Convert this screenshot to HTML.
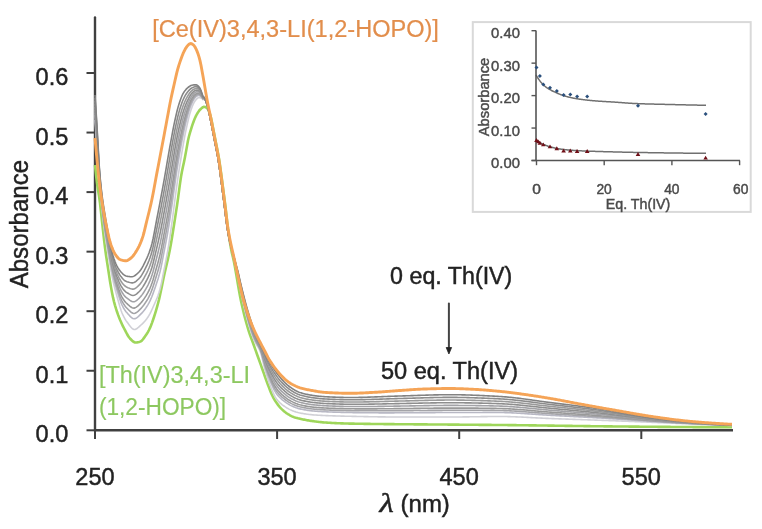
<!DOCTYPE html><html><head><meta charset="utf-8"><style>html,body{margin:0;padding:0;background:#fff;}svg{display:block;filter:blur(0.65px);}text{-webkit-font-smoothing:antialiased;}</style></head><body>
<svg width="762" height="529" viewBox="0 0 762 529">
<rect width="762" height="529" fill="#fff"/>
<line x1="95" y1="17.5" x2="95" y2="431" stroke="#404040" stroke-width="2.4" stroke-linecap="round"/>
<line x1="94" y1="430.3" x2="733" y2="430.3" stroke="#404040" stroke-width="2.4"/>
<line x1="86.5" y1="430.30" x2="95" y2="430.30" stroke="#404040" stroke-width="2"/>
<line x1="86.5" y1="370.75" x2="95" y2="370.75" stroke="#404040" stroke-width="2"/>
<line x1="86.5" y1="311.20" x2="95" y2="311.20" stroke="#404040" stroke-width="2"/>
<line x1="86.5" y1="251.65" x2="95" y2="251.65" stroke="#404040" stroke-width="2"/>
<line x1="86.5" y1="192.10" x2="95" y2="192.10" stroke="#404040" stroke-width="2"/>
<line x1="86.5" y1="132.55" x2="95" y2="132.55" stroke="#404040" stroke-width="2"/>
<line x1="86.5" y1="73.00" x2="95" y2="73.00" stroke="#404040" stroke-width="2"/>
<line x1="95.00" y1="430" x2="95.00" y2="439" stroke="#404040" stroke-width="2"/>
<line x1="277.10" y1="430" x2="277.10" y2="439" stroke="#404040" stroke-width="2"/>
<line x1="459.20" y1="430" x2="459.20" y2="439" stroke="#404040" stroke-width="2"/>
<line x1="641.30" y1="430" x2="641.30" y2="439" stroke="#404040" stroke-width="2"/>
<path d="M95.0,165.00 L96.0,174.61 L97.0,183.00 L98.0,189.71 L99.0,195.84 L100.0,203.17 L101.0,212.09 L102.0,221.48 L103.0,230.43 L104.0,239.31 L105.0,247.69 L106.0,255.03 L107.0,261.66 L108.0,268.06 L109.0,274.64 L110.0,281.19 L111.0,287.12 L112.0,292.53 L113.0,297.42 L114.0,301.58 L115.0,305.29 L116.0,308.69 L117.0,311.79 L118.0,314.65 L119.0,317.30 L120.0,319.76 L121.0,322.07 L122.0,324.25 L123.0,326.31 L124.0,328.28 L125.0,330.19 L126.0,332.10 L127.0,333.99 L128.0,335.75 L129.0,337.29 L130.0,338.50 L131.0,339.53 L132.0,340.53 L133.0,341.40 L134.0,342.07 L135.0,342.45 L136.0,342.49 L137.0,342.39 L138.0,342.21 L139.0,341.97 L140.0,341.67 L141.0,341.26 L142.0,340.42 L143.0,339.24 L144.0,337.88 L145.0,336.50 L146.0,335.10 L147.0,333.56 L148.0,331.87 L149.0,330.00 L150.0,327.93 L151.0,325.52 L152.0,322.85 L153.0,319.98 L154.0,317.00 L155.0,313.91 L156.0,310.63 L157.0,307.17 L158.0,303.50 L159.0,299.60 L160.0,295.29 L161.0,290.58 L162.0,285.67 L163.0,280.75 L164.0,276.00 L165.0,271.54 L166.0,267.24 L167.0,262.98 L168.0,258.60 L169.0,253.97 L170.0,248.96 L171.0,243.42 L172.0,237.47 L173.0,231.27 L174.0,225.00 L175.0,218.65 L176.0,212.12 L177.0,205.44 L178.0,198.61 L179.0,191.20 L180.0,183.66 L181.0,176.80 L182.0,171.26 L183.0,166.55 L184.0,161.96 L185.0,156.92 L186.0,151.62 L187.0,145.98 L188.0,140.46 L189.0,136.26 L190.0,132.67 L191.0,129.34 L192.0,126.16 L193.0,123.19 L194.0,120.50 L195.0,118.08 L196.0,115.88 L197.0,114.00 L198.0,112.37 L199.0,110.90 L200.0,109.69 L201.0,108.75 L202.0,107.87 L203.0,107.16 L204.0,106.81 L205.0,106.92 L206.0,107.37 L207.0,108.08 L208.0,109.19 L209.0,111.63 L210.0,114.14 L211.0,117.83 L212.0,122.50 L213.0,127.63 L214.0,132.81 L215.0,138.00 L216.0,143.05 L217.0,148.02 L218.0,153.17 L219.0,158.79 L220.0,165.25 L221.0,172.51 L222.0,180.00 L223.0,187.59 L224.0,195.35 L225.0,203.14 L226.0,211.32 L227.0,220.45 L228.0,228.75 L229.0,236.10 L230.0,242.75 L231.0,248.48 L232.0,253.45 L233.0,257.36 L234.0,261.93 L235.0,267.19 L236.0,272.91 L237.0,278.86 L238.0,284.84 L239.0,290.65 L240.0,296.08 L241.0,300.92 L242.0,305.42 L243.0,309.75 L244.0,313.90 L245.0,317.87 L246.0,321.66 L247.0,325.27 L248.0,328.68 L249.0,331.89 L250.0,334.81 L251.0,337.56 L252.0,340.25 L253.0,343.00 L254.0,345.81 L255.0,348.61 L256.0,351.41 L257.0,354.20 L258.0,357.00 L259.0,359.80 L260.0,362.60 L261.0,365.40 L262.0,368.20 L263.0,371.00 L264.0,373.84 L265.0,376.71 L266.0,379.57 L267.0,382.35 L268.0,385.00 L269.0,387.59 L270.0,390.16 L271.0,392.65 L272.0,394.97 L273.0,397.06 L274.0,398.88 L275.0,400.55 L276.0,402.10 L277.0,403.55 L278.0,404.89 L279.0,406.13 L280.0,407.28 L281.0,408.35 L282.0,409.37 L283.0,410.33 L284.0,411.22 L285.0,412.05 L286.0,412.81 L287.0,413.50 L288.0,414.14 L289.0,414.74 L290.0,415.31 L291.0,415.84 L292.0,416.32 L293.0,416.76 L294.0,417.16 L295.0,417.50 L296.0,417.81 L297.0,418.08 L298.0,418.34 L299.0,418.57 L300.0,418.80 L301.0,419.02 L302.0,419.23 L303.0,419.44 L304.0,419.64 L305.0,419.83 L306.0,420.02 L307.0,420.20 L308.0,420.38 L309.0,420.54 L310.0,420.70 L311.0,420.85 L312.0,421.00 L313.0,421.14 L314.0,421.28 L315.0,421.42 L316.0,421.55 L317.0,421.68 L318.0,421.81 L319.0,421.93 L320.0,422.05 L321.0,422.15 L322.0,422.25 L323.0,422.35 L324.0,422.43 L325.0,422.50 L326.0,422.57 L327.0,422.63 L328.0,422.69 L329.0,422.75 L330.0,422.81 L331.0,422.87 L332.0,422.93 L333.0,422.98 L334.0,423.03 L335.0,423.08 L336.0,423.13 L337.0,423.18 L338.0,423.22 L339.0,423.27 L340.0,423.31 L341.0,423.34 L342.0,423.38 L343.0,423.42 L344.0,423.45 L345.0,423.48 L346.0,423.51 L347.0,423.53 L348.0,423.56 L349.0,423.58 L350.0,423.60 L351.0,423.62 L352.0,423.64 L353.0,423.65 L354.0,423.67 L355.0,423.69 L356.0,423.71 L357.0,423.72 L358.0,423.74 L359.0,423.76 L360.0,423.77 L361.0,423.79 L362.0,423.80 L363.0,423.82 L364.0,423.83 L365.0,423.85 L366.0,423.86 L367.0,423.87 L368.0,423.89 L369.0,423.90 L370.0,423.91 L371.0,423.93 L372.0,423.94 L373.0,423.95 L374.0,423.97 L375.0,423.98 L376.0,423.99 L377.0,424.00 L378.0,424.01 L379.0,424.02 L380.0,424.03 L381.0,424.05 L382.0,424.06 L383.0,424.07 L384.0,424.08 L385.0,424.09 L386.0,424.10 L387.0,424.11 L388.0,424.12 L389.0,424.13 L390.0,424.14 L391.0,424.15 L392.0,424.15 L393.0,424.16 L394.0,424.17 L395.0,424.18 L396.0,424.19 L397.0,424.20 L398.0,424.21 L399.0,424.22 L400.0,424.22 L401.0,424.23 L402.0,424.24 L403.0,424.25 L404.0,424.26 L405.0,424.26 L406.0,424.27 L407.0,424.28 L408.0,424.29 L409.0,424.29 L410.0,424.30 L411.0,424.31 L412.0,424.32 L413.0,424.32 L414.0,424.33 L415.0,424.34 L416.0,424.34 L417.0,424.35 L418.0,424.36 L419.0,424.37 L420.0,424.37 L421.0,424.38 L422.0,424.39 L423.0,424.39 L424.0,424.40 L425.0,424.41 L426.0,424.41 L427.0,424.42 L428.0,424.43 L429.0,424.44 L430.0,424.44 L431.0,424.45 L432.0,424.46 L433.0,424.47 L434.0,424.47 L435.0,424.48 L436.0,424.49 L437.0,424.49 L438.0,424.50 L439.0,424.51 L440.0,424.52 L441.0,424.53 L442.0,424.53 L443.0,424.54 L444.0,424.55 L445.0,424.56 L446.0,424.57 L447.0,424.57 L448.0,424.58 L449.0,424.59 L450.0,424.60 L451.0,424.61 L452.0,424.62 L453.0,424.63 L454.0,424.63 L455.0,424.64 L456.0,424.65 L457.0,424.66 L458.0,424.67 L459.0,424.67 L460.0,424.68 L461.0,424.69 L462.0,424.70 L463.0,424.71 L464.0,424.71 L465.0,424.72 L466.0,424.73 L467.0,424.74 L468.0,424.74 L469.0,424.75 L470.0,424.76 L471.0,424.77 L472.0,424.77 L473.0,424.78 L474.0,424.79 L475.0,424.80 L476.0,424.80 L477.0,424.81 L478.0,424.82 L479.0,424.83 L480.0,424.83 L481.0,424.84 L482.0,424.85 L483.0,424.86 L484.0,424.86 L485.0,424.87 L486.0,424.88 L487.0,424.89 L488.0,424.90 L489.0,424.90 L490.0,424.91 L491.0,424.92 L492.0,424.93 L493.0,424.94 L494.0,424.95 L495.0,424.95 L496.0,424.96 L497.0,424.97 L498.0,424.98 L499.0,424.99 L500.0,425.00 L501.0,425.01 L502.0,425.02 L503.0,425.03 L504.0,425.04 L505.0,425.05 L506.0,425.06 L507.0,425.07 L508.0,425.08 L509.0,425.09 L510.0,425.10 L511.0,425.11 L512.0,425.12 L513.0,425.14 L514.0,425.15 L515.0,425.16 L516.0,425.17 L517.0,425.18 L518.0,425.19 L519.0,425.21 L520.0,425.22 L521.0,425.23 L522.0,425.24 L523.0,425.25 L524.0,425.27 L525.0,425.28 L526.0,425.29 L527.0,425.30 L528.0,425.32 L529.0,425.33 L530.0,425.34 L531.0,425.36 L532.0,425.37 L533.0,425.38 L534.0,425.40 L535.0,425.41 L536.0,425.42 L537.0,425.44 L538.0,425.45 L539.0,425.46 L540.0,425.48 L541.0,425.49 L542.0,425.50 L543.0,425.52 L544.0,425.53 L545.0,425.55 L546.0,425.56 L547.0,425.57 L548.0,425.59 L549.0,425.60 L550.0,425.62 L551.0,425.63 L552.0,425.64 L553.0,425.66 L554.0,425.67 L555.0,425.69 L556.0,425.70 L557.0,425.71 L558.0,425.73 L559.0,425.74 L560.0,425.76 L561.0,425.77 L562.0,425.78 L563.0,425.80 L564.0,425.81 L565.0,425.83 L566.0,425.84 L567.0,425.85 L568.0,425.87 L569.0,425.88 L570.0,425.90 L571.0,425.91 L572.0,425.92 L573.0,425.94 L574.0,425.95 L575.0,425.97 L576.0,425.98 L577.0,425.99 L578.0,426.01 L579.0,426.02 L580.0,426.03 L581.0,426.05 L582.0,426.06 L583.0,426.07 L584.0,426.09 L585.0,426.10 L586.0,426.11 L587.0,426.13 L588.0,426.14 L589.0,426.15 L590.0,426.17 L591.0,426.18 L592.0,426.19 L593.0,426.20 L594.0,426.22 L595.0,426.23 L596.0,426.24 L597.0,426.25 L598.0,426.27 L599.0,426.28 L600.0,426.29 L601.0,426.30 L602.0,426.31 L603.0,426.32 L604.0,426.34 L605.0,426.35 L606.0,426.36 L607.0,426.37 L608.0,426.38 L609.0,426.39 L610.0,426.40 L611.0,426.41 L612.0,426.42 L613.0,426.43 L614.0,426.44 L615.0,426.45 L616.0,426.46 L617.0,426.47 L618.0,426.48 L619.0,426.49 L620.0,426.50 L621.0,426.51 L622.0,426.52 L623.0,426.53 L624.0,426.54 L625.0,426.55 L626.0,426.55 L627.0,426.56 L628.0,426.57 L629.0,426.58 L630.0,426.59 L631.0,426.60 L632.0,426.61 L633.0,426.62 L634.0,426.62 L635.0,426.63 L636.0,426.64 L637.0,426.65 L638.0,426.66 L639.0,426.67 L640.0,426.68 L641.0,426.68 L642.0,426.69 L643.0,426.70 L644.0,426.71 L645.0,426.72 L646.0,426.73 L647.0,426.74 L648.0,426.74 L649.0,426.75 L650.0,426.76 L651.0,426.77 L652.0,426.78 L653.0,426.78 L654.0,426.79 L655.0,426.80 L656.0,426.81 L657.0,426.82 L658.0,426.83 L659.0,426.83 L660.0,426.84 L661.0,426.85 L662.0,426.86 L663.0,426.86 L664.0,426.87 L665.0,426.88 L666.0,426.89 L667.0,426.90 L668.0,426.90 L669.0,426.91 L670.0,426.92 L671.0,426.93 L672.0,426.93 L673.0,426.94 L674.0,426.95 L675.0,426.96 L676.0,426.96 L677.0,426.97 L678.0,426.98 L679.0,426.98 L680.0,426.99 L681.0,427.00 L682.0,427.01 L683.0,427.01 L684.0,427.02 L685.0,427.03 L686.0,427.03 L687.0,427.04 L688.0,427.05 L689.0,427.05 L690.0,427.06 L691.0,427.07 L692.0,427.07 L693.0,427.08 L694.0,427.09 L695.0,427.09 L696.0,427.10 L697.0,427.11 L698.0,427.11 L699.0,427.12 L700.0,427.13 L701.0,427.13 L702.0,427.14 L703.0,427.14 L704.0,427.15 L705.0,427.16 L706.0,427.16 L707.0,427.17 L708.0,427.17 L709.0,427.18 L710.0,427.19 L711.0,427.19 L712.0,427.20 L713.0,427.20 L714.0,427.21 L715.0,427.21 L716.0,427.22 L717.0,427.23 L718.0,427.23 L719.0,427.24 L720.0,427.24 L721.0,427.25 L722.0,427.25 L723.0,427.26 L724.0,427.26 L725.0,427.27 L726.0,427.27 L727.0,427.28 L728.0,427.28 L729.0,427.29 L730.0,427.29 L731.0,427.30 L732.0,427.30" fill="none" stroke="#9ed65a" stroke-width="2.6" stroke-linejoin="round"/>
<path d="M95.0,120.00 L96.0,135.24 L97.0,150.00 L98.0,164.74 L99.0,178.79 L100.0,190.60 L101.0,200.72 L102.0,210.00 L103.0,218.99 L104.0,227.46 L105.0,235.00 L106.0,241.34 L107.0,247.08 L108.0,253.04 L109.0,259.23 L110.0,265.21 L111.0,270.66 L112.0,275.77 L113.0,280.56 L114.0,285.00 L115.0,289.08 L116.0,292.88 L117.0,296.49 L118.0,300.00 L119.0,303.55 L120.0,307.07 L121.0,310.30 L122.0,313.00 L123.0,315.23 L124.0,317.22 L125.0,319.01 L126.0,320.60 L127.0,322.00 L128.0,323.35 L129.0,324.73 L130.0,326.06 L131.0,327.27 L132.0,328.28 L133.0,329.03 L134.0,329.45 L135.0,329.45 L136.0,329.12 L137.0,328.52 L138.0,327.74 L139.0,326.84 L140.0,325.90 L141.0,325.00 L142.0,324.10 L143.0,323.13 L144.0,322.09 L145.0,320.95 L146.0,319.73 L147.0,318.41 L148.0,317.00 L149.0,315.41 L150.0,313.59 L151.0,311.59 L152.0,309.47 L153.0,307.25 L154.0,305.00 L155.0,302.76 L156.0,300.48 L157.0,298.09 L158.0,295.48 L159.0,292.59 L160.0,289.30 L161.0,285.17 L162.0,280.32 L163.0,275.14 L164.0,270.00 L165.0,265.05 L166.0,260.07 L167.0,254.89 L168.0,249.35 L169.0,243.25 L170.0,236.47 L171.0,229.28 L172.0,222.00 L173.0,214.57 L174.0,206.87 L175.0,199.12 L176.0,191.52 L177.0,184.30 L178.0,177.39 L179.0,170.68 L180.0,164.21 L181.0,158.00 L182.0,151.95 L183.0,146.01 L184.0,140.30 L185.0,134.93 L186.0,130.00 L187.0,125.39 L188.0,120.97 L189.0,116.85 L190.0,113.16 L191.0,110.00 L192.0,107.23 L193.0,104.70 L194.0,102.58 L195.0,101.00 L196.0,99.74 L197.0,98.62 L198.0,97.81 L199.0,97.50 L200.0,97.63 L201.0,97.99 L202.0,98.50 L203.0,99.65 L204.0,98.41 L205.0,98.98 L206.0,101.10 L207.0,104.14 L208.0,107.53 L209.0,112.28 L210.0,117.05 L211.0,122.01 L212.0,127.12 L213.0,132.29 L214.0,137.48 L215.0,142.56 L216.0,147.52 L217.0,152.64 L218.0,158.20 L219.0,164.56 L220.0,171.76 L221.0,179.26 L222.0,186.81 L223.0,194.58 L224.0,202.34 L225.0,210.49 L226.0,218.64 L227.0,226.11 L228.0,232.34 L229.0,237.75 L230.0,242.65 L231.0,246.62 L232.0,250.64 L233.0,254.80 L234.0,259.23 L235.0,263.91 L236.0,268.74 L237.0,273.65 L238.0,278.59 L239.0,283.55 L240.0,288.37 L241.0,293.00 L242.0,297.51 L243.0,301.96 L244.0,306.31 L245.0,310.52 L246.0,314.56 L247.0,318.40 L248.0,322.00 L249.0,325.42 L250.0,328.72 L251.0,331.86 L252.0,334.82 L253.0,337.54 L254.0,340.00 L255.0,342.09 L256.0,343.86 L257.0,345.47 L258.0,347.08 L259.0,348.87 L260.0,351.01 L261.0,353.78 L262.0,357.54 L263.0,361.85 L264.0,366.17 L265.0,370.00 L266.0,373.33 L267.0,376.52 L268.0,379.53 L269.0,382.37 L270.0,385.00 L271.0,387.53 L272.0,390.02 L273.0,392.41 L274.0,394.63 L275.0,396.61 L276.0,398.29 L277.0,399.64 L278.0,400.82 L279.0,401.88 L280.0,402.85 L281.0,403.72 L282.0,404.53 L283.0,405.28 L284.0,406.00 L285.0,406.69 L286.0,407.34 L287.0,407.97 L288.0,408.55 L289.0,409.10 L290.0,409.61 L291.0,410.08 L292.0,410.50 L293.0,410.89 L294.0,411.27 L295.0,411.62 L296.0,411.96 L297.0,412.26 L298.0,412.54 L299.0,412.79 L300.0,413.00 L301.0,413.19 L302.0,413.38 L303.0,413.55 L304.0,413.72 L305.0,413.88 L306.0,414.03 L307.0,414.18 L308.0,414.31 L309.0,414.44 L310.0,414.56 L311.0,414.67 L312.0,414.76 L313.0,414.85 L314.0,414.93 L315.0,415.00 L316.0,415.06 L317.0,415.12 L318.0,415.18 L319.0,415.24 L320.0,415.29 L321.0,415.34 L322.0,415.39 L323.0,415.44 L324.0,415.49 L325.0,415.54 L326.0,415.58 L327.0,415.62 L328.0,415.66 L329.0,415.70 L330.0,415.74 L331.0,415.78 L332.0,415.82 L333.0,415.85 L334.0,415.88 L335.0,415.92 L336.0,415.95 L337.0,415.98 L338.0,416.01 L339.0,416.04 L340.0,416.06 L341.0,416.09 L342.0,416.12 L343.0,416.14 L344.0,416.17 L345.0,416.19 L346.0,416.21 L347.0,416.24 L348.0,416.26 L349.0,416.28 L350.0,416.30 L351.0,416.32 L352.0,416.34 L353.0,416.36 L354.0,416.38 L355.0,416.40 L356.0,416.42 L357.0,416.45 L358.0,416.47 L359.0,416.49 L360.0,416.51 L361.0,416.53 L362.0,416.55 L363.0,416.57 L364.0,416.59 L365.0,416.60 L366.0,416.62 L367.0,416.64 L368.0,416.66 L369.0,416.68 L370.0,416.70 L371.0,416.71 L372.0,416.73 L373.0,416.75 L374.0,416.76 L375.0,416.78 L376.0,416.80 L377.0,416.81 L378.0,416.83 L379.0,416.84 L380.0,416.85 L381.0,416.87 L382.0,416.88 L383.0,416.89 L384.0,416.90 L385.0,416.91 L386.0,416.93 L387.0,416.93 L388.0,416.94 L389.0,416.95 L390.0,416.96 L391.0,416.97 L392.0,416.97 L393.0,416.98 L394.0,416.99 L395.0,416.99 L396.0,416.99 L397.0,417.00 L398.0,417.00 L399.0,417.00 L400.0,417.00 L401.0,417.00 L402.0,417.00 L403.0,417.00 L404.0,417.00 L405.0,417.00 L406.0,417.00 L407.0,417.00 L408.0,417.00 L409.0,417.00 L410.0,417.00 L411.0,417.00 L412.0,417.00 L413.0,417.00 L414.0,417.00 L415.0,417.00 L416.0,417.00 L417.0,417.00 L418.0,417.00 L419.0,417.00 L420.0,417.00 L421.0,417.00 L422.0,417.00 L423.0,417.00 L424.0,417.00 L425.0,417.00 L426.0,417.00 L427.0,417.00 L428.0,417.00 L429.0,417.00 L430.0,417.00 L431.0,417.00 L432.0,417.00 L433.0,417.00 L434.0,417.00 L435.0,417.00 L436.0,417.00 L437.0,417.00 L438.0,417.00 L439.0,417.00 L440.0,417.00 L441.0,417.00 L442.0,417.00 L443.0,417.00 L444.0,417.00 L445.0,417.00 L446.0,417.00 L447.0,417.00 L448.0,417.00 L449.0,417.00 L450.0,417.00 L451.0,417.00 L452.0,417.00 L453.0,416.99 L454.0,416.99 L455.0,416.99 L456.0,416.98 L457.0,416.97 L458.0,416.97 L459.0,416.96 L460.0,416.95 L461.0,416.94 L462.0,416.93 L463.0,416.92 L464.0,416.90 L465.0,416.89 L466.0,416.88 L467.0,416.87 L468.0,416.85 L469.0,416.84 L470.0,416.82 L471.0,416.81 L472.0,416.79 L473.0,416.78 L474.0,416.76 L475.0,416.75 L476.0,416.74 L477.0,416.72 L478.0,416.71 L479.0,416.69 L480.0,416.68 L481.0,416.66 L482.0,416.65 L483.0,416.63 L484.0,416.62 L485.0,416.61 L486.0,416.60 L487.0,416.58 L488.0,416.57 L489.0,416.56 L490.0,416.55 L491.0,416.54 L492.0,416.53 L493.0,416.53 L494.0,416.52 L495.0,416.51 L496.0,416.51 L497.0,416.51 L498.0,416.50 L499.0,416.50 L500.0,416.50 L501.0,416.50 L502.0,416.51 L503.0,416.51 L504.0,416.53 L505.0,416.54 L506.0,416.56 L507.0,416.57 L508.0,416.60 L509.0,416.62 L510.0,416.65 L511.0,416.68 L512.0,416.71 L513.0,416.74 L514.0,416.78 L515.0,416.81 L516.0,416.85 L517.0,416.89 L518.0,416.93 L519.0,416.98 L520.0,417.02 L521.0,417.07 L522.0,417.12 L523.0,417.16 L524.0,417.21 L525.0,417.26 L526.0,417.31 L527.0,417.37 L528.0,417.42 L529.0,417.47 L530.0,417.52 L531.0,417.58 L532.0,417.63 L533.0,417.68 L534.0,417.74 L535.0,417.79 L536.0,417.84 L537.0,417.90 L538.0,417.95 L539.0,418.00 L540.0,418.05 L541.0,418.10 L542.0,418.15 L543.0,418.20 L544.0,418.24 L545.0,418.29 L546.0,418.34 L547.0,418.38 L548.0,418.42 L549.0,418.46 L550.0,418.50 L551.0,418.54 L552.0,418.58 L553.0,418.61 L554.0,418.65 L555.0,418.69 L556.0,418.72 L557.0,418.76 L558.0,418.80 L559.0,418.83 L560.0,418.87 L561.0,418.91 L562.0,418.94 L563.0,418.98 L564.0,419.01 L565.0,419.05 L566.0,419.08 L567.0,419.12 L568.0,419.15 L569.0,419.19 L570.0,419.22 L571.0,419.26 L572.0,419.29 L573.0,419.33 L574.0,419.36 L575.0,419.40 L576.0,419.43 L577.0,419.47 L578.0,419.50 L579.0,419.54 L580.0,419.57 L581.0,419.61 L582.0,419.64 L583.0,419.68 L584.0,419.71 L585.0,419.74 L586.0,419.78 L587.0,419.81 L588.0,419.85 L589.0,419.88 L590.0,419.92 L591.0,419.95 L592.0,419.99 L593.0,420.02 L594.0,420.06 L595.0,420.09 L596.0,420.13 L597.0,420.16 L598.0,420.20 L599.0,420.23 L600.0,420.27 L601.0,420.30 L602.0,420.34 L603.0,420.37 L604.0,420.41 L605.0,420.44 L606.0,420.48 L607.0,420.52 L608.0,420.55 L609.0,420.59 L610.0,420.62 L611.0,420.66 L612.0,420.70 L613.0,420.74 L614.0,420.77 L615.0,420.81 L616.0,420.85 L617.0,420.89 L618.0,420.92 L619.0,420.96 L620.0,421.00 L621.0,421.04 L622.0,421.08 L623.0,421.12 L624.0,421.16 L625.0,421.20 L626.0,421.24 L627.0,421.28 L628.0,421.32 L629.0,421.36 L630.0,421.40 L631.0,421.44 L632.0,421.48 L633.0,421.52 L634.0,421.56 L635.0,421.60 L636.0,421.65 L637.0,421.69 L638.0,421.73 L639.0,421.77 L640.0,421.81 L641.0,421.86 L642.0,421.90 L643.0,421.94 L644.0,421.98 L645.0,422.03 L646.0,422.07 L647.0,422.11 L648.0,422.15 L649.0,422.20 L650.0,422.24 L651.0,422.28 L652.0,422.33 L653.0,422.37 L654.0,422.41 L655.0,422.45 L656.0,422.50 L657.0,422.54 L658.0,422.58 L659.0,422.63 L660.0,422.67 L661.0,422.71 L662.0,422.75 L663.0,422.80 L664.0,422.84 L665.0,422.88 L666.0,422.92 L667.0,422.97 L668.0,423.01 L669.0,423.05 L670.0,423.09 L671.0,423.13 L672.0,423.17 L673.0,423.22 L674.0,423.26 L675.0,423.30 L676.0,423.34 L677.0,423.38 L678.0,423.42 L679.0,423.46 L680.0,423.50 L681.0,423.54 L682.0,423.58 L683.0,423.62 L684.0,423.66 L685.0,423.70 L686.0,423.74 L687.0,423.78 L688.0,423.82 L689.0,423.86 L690.0,423.90 L691.0,423.94 L692.0,423.98 L693.0,424.01 L694.0,424.05 L695.0,424.09 L696.0,424.13 L697.0,424.17 L698.0,424.21 L699.0,424.25 L700.0,424.29 L701.0,424.33 L702.0,424.37 L703.0,424.40 L704.0,424.44 L705.0,424.48 L706.0,424.52 L707.0,424.56 L708.0,424.60 L709.0,424.63 L710.0,424.67 L711.0,424.71 L712.0,424.75 L713.0,424.79 L714.0,424.83 L715.0,424.86 L716.0,424.90 L717.0,424.94 L718.0,424.98 L719.0,425.01 L720.0,425.05 L721.0,425.09 L722.0,425.13 L723.0,425.16 L724.0,425.20 L725.0,425.24 L726.0,425.28 L727.0,425.31 L728.0,425.35 L729.0,425.39 L730.0,425.43 L731.0,425.46 L732.0,425.50" fill="none" stroke="#d0d0d6" stroke-width="1.6" stroke-linejoin="round"/>
<path d="M95.0,115.00 L96.0,130.19 L97.0,145.30 L98.0,160.60 L99.0,175.53 L100.0,187.70 L101.0,197.85 L102.0,207.00 L103.0,215.67 L104.0,223.74 L105.0,231.00 L106.0,237.26 L107.0,242.97 L108.0,248.83 L109.0,254.89 L110.0,260.77 L111.0,266.11 L112.0,271.00 L113.0,275.56 L114.0,279.76 L115.0,283.59 L116.0,287.10 L117.0,290.40 L118.0,293.57 L119.0,296.73 L120.0,299.82 L121.0,302.64 L122.0,305.01 L123.0,306.99 L124.0,308.77 L125.0,310.33 L126.0,311.68 L127.0,312.84 L128.0,313.95 L129.0,315.08 L130.0,316.17 L131.0,317.15 L132.0,317.97 L133.0,318.53 L134.0,318.78 L135.0,318.67 L136.0,318.25 L137.0,317.60 L138.0,316.78 L139.0,315.87 L140.0,314.90 L141.0,313.90 L142.0,312.86 L143.0,311.72 L144.0,310.49 L145.0,309.18 L146.0,307.78 L147.0,306.30 L148.0,304.70 L149.0,302.92 L150.0,300.90 L151.0,298.68 L152.0,296.25 L153.0,293.60 L154.0,290.80 L155.0,287.94 L156.0,285.04 L157.0,282.07 L158.0,278.96 L159.0,275.59 L160.0,271.90 L161.0,267.53 L162.0,262.57 L163.0,257.32 L164.0,252.11 L165.0,247.03 L166.0,241.88 L167.0,236.56 L168.0,230.95 L169.0,224.92 L170.0,218.37 L171.0,211.53 L172.0,204.62 L173.0,197.61 L174.0,190.44 L175.0,183.30 L176.0,176.33 L177.0,169.70 L178.0,163.39 L179.0,157.35 L180.0,151.57 L181.0,146.04 L182.0,140.71 L183.0,135.55 L184.0,130.65 L185.0,126.07 L186.0,121.88 L187.0,117.98 L188.0,114.27 L189.0,110.83 L190.0,107.74 L191.0,105.10 L192.0,102.82 L193.0,100.77 L194.0,99.05 L195.0,97.77 L196.0,96.76 L197.0,95.91 L198.0,95.42 L199.0,95.38 L200.0,95.76 L201.0,96.51 L202.0,97.50 L203.0,99.04 L204.0,98.18 L205.0,98.99 L206.0,101.18 L207.0,104.20 L208.0,107.53 L209.0,112.28 L210.0,117.05 L211.0,122.01 L212.0,127.12 L213.0,132.29 L214.0,137.48 L215.0,142.56 L216.0,147.52 L217.0,152.64 L218.0,158.20 L219.0,164.56 L220.0,171.76 L221.0,179.26 L222.0,186.81 L223.0,194.58 L224.0,202.34 L225.0,210.49 L226.0,218.64 L227.0,226.11 L228.0,232.34 L229.0,237.75 L230.0,242.65 L231.0,246.55 L232.0,250.47 L233.0,254.51 L234.0,258.78 L235.0,263.26 L236.0,267.87 L237.0,272.54 L238.0,277.21 L239.0,282.07 L240.0,286.81 L241.0,291.37 L242.0,295.81 L243.0,300.17 L244.0,304.42 L245.0,308.55 L246.0,312.52 L247.0,316.31 L248.0,319.89 L249.0,323.29 L250.0,326.58 L251.0,329.71 L252.0,332.68 L253.0,335.44 L254.0,337.97 L255.0,340.18 L256.0,342.09 L257.0,343.84 L258.0,345.57 L259.0,347.42 L260.0,349.53 L261.0,352.14 L262.0,355.54 L263.0,359.39 L264.0,363.28 L265.0,366.78 L266.0,369.87 L267.0,372.83 L268.0,375.63 L269.0,378.24 L270.0,380.67 L271.0,383.01 L272.0,385.30 L273.0,387.50 L274.0,389.56 L275.0,391.43 L276.0,393.06 L277.0,394.41 L278.0,395.62 L279.0,396.73 L280.0,397.75 L281.0,398.68 L282.0,399.54 L283.0,400.36 L284.0,401.14 L285.0,401.89 L286.0,402.61 L287.0,403.29 L288.0,403.93 L289.0,404.53 L290.0,405.09 L291.0,405.60 L292.0,406.07 L293.0,406.52 L294.0,406.94 L295.0,407.34 L296.0,407.72 L297.0,408.06 L298.0,408.38 L299.0,408.66 L300.0,408.90 L301.0,409.12 L302.0,409.33 L303.0,409.52 L304.0,409.71 L305.0,409.89 L306.0,410.06 L307.0,410.22 L308.0,410.37 L309.0,410.51 L310.0,410.64 L311.0,410.76 L312.0,410.87 L313.0,410.97 L314.0,411.06 L315.0,411.14 L316.0,411.22 L317.0,411.29 L318.0,411.36 L319.0,411.43 L320.0,411.49 L321.0,411.56 L322.0,411.61 L323.0,411.67 L324.0,411.72 L325.0,411.77 L326.0,411.81 L327.0,411.86 L328.0,411.90 L329.0,411.94 L330.0,411.98 L331.0,412.02 L332.0,412.06 L333.0,412.10 L334.0,412.13 L335.0,412.17 L336.0,412.20 L337.0,412.23 L338.0,412.26 L339.0,412.29 L340.0,412.32 L341.0,412.35 L342.0,412.37 L343.0,412.40 L344.0,412.42 L345.0,412.44 L346.0,412.46 L347.0,412.49 L348.0,412.50 L349.0,412.52 L350.0,412.54 L351.0,412.56 L352.0,412.57 L353.0,412.59 L354.0,412.60 L355.0,412.62 L356.0,412.63 L357.0,412.65 L358.0,412.66 L359.0,412.67 L360.0,412.68 L361.0,412.69 L362.0,412.71 L363.0,412.72 L364.0,412.73 L365.0,412.74 L366.0,412.75 L367.0,412.75 L368.0,412.76 L369.0,412.77 L370.0,412.78 L371.0,412.79 L372.0,412.79 L373.0,412.80 L374.0,412.80 L375.0,412.81 L376.0,412.81 L377.0,412.82 L378.0,412.82 L379.0,412.83 L380.0,412.83 L381.0,412.83 L382.0,412.83 L383.0,412.84 L384.0,412.84 L385.0,412.84 L386.0,412.84 L387.0,412.84 L388.0,412.84 L389.0,412.84 L390.0,412.84 L391.0,412.83 L392.0,412.83 L393.0,412.83 L394.0,412.83 L395.0,412.82 L396.0,412.82 L397.0,412.81 L398.0,412.81 L399.0,412.81 L400.0,412.80 L401.0,412.79 L402.0,412.79 L403.0,412.78 L404.0,412.78 L405.0,412.77 L406.0,412.76 L407.0,412.76 L408.0,412.75 L409.0,412.74 L410.0,412.74 L411.0,412.73 L412.0,412.72 L413.0,412.72 L414.0,412.71 L415.0,412.70 L416.0,412.70 L417.0,412.69 L418.0,412.68 L419.0,412.68 L420.0,412.67 L421.0,412.66 L422.0,412.65 L423.0,412.65 L424.0,412.64 L425.0,412.64 L426.0,412.63 L427.0,412.62 L428.0,412.62 L429.0,412.61 L430.0,412.60 L431.0,412.60 L432.0,412.59 L433.0,412.59 L434.0,412.58 L435.0,412.58 L436.0,412.57 L437.0,412.57 L438.0,412.57 L439.0,412.56 L440.0,412.56 L441.0,412.55 L442.0,412.55 L443.0,412.55 L444.0,412.55 L445.0,412.54 L446.0,412.54 L447.0,412.54 L448.0,412.54 L449.0,412.54 L450.0,412.54 L451.0,412.54 L452.0,412.54 L453.0,412.54 L454.0,412.54 L455.0,412.53 L456.0,412.53 L457.0,412.53 L458.0,412.53 L459.0,412.52 L460.0,412.52 L461.0,412.51 L462.0,412.51 L463.0,412.51 L464.0,412.50 L465.0,412.50 L466.0,412.49 L467.0,412.49 L468.0,412.48 L469.0,412.48 L470.0,412.47 L471.0,412.47 L472.0,412.46 L473.0,412.46 L474.0,412.45 L475.0,412.45 L476.0,412.45 L477.0,412.44 L478.0,412.44 L479.0,412.44 L480.0,412.43 L481.0,412.43 L482.0,412.43 L483.0,412.43 L484.0,412.43 L485.0,412.43 L486.0,412.43 L487.0,412.43 L488.0,412.43 L489.0,412.43 L490.0,412.43 L491.0,412.44 L492.0,412.44 L493.0,412.44 L494.0,412.45 L495.0,412.46 L496.0,412.46 L497.0,412.47 L498.0,412.48 L499.0,412.49 L500.0,412.50 L501.0,412.51 L502.0,412.53 L503.0,412.55 L504.0,412.57 L505.0,412.60 L506.0,412.63 L507.0,412.66 L508.0,412.70 L509.0,412.73 L510.0,412.77 L511.0,412.82 L512.0,412.86 L513.0,412.91 L514.0,412.96 L515.0,413.01 L516.0,413.07 L517.0,413.12 L518.0,413.18 L519.0,413.24 L520.0,413.30 L521.0,413.36 L522.0,413.43 L523.0,413.49 L524.0,413.56 L525.0,413.62 L526.0,413.69 L527.0,413.76 L528.0,413.83 L529.0,413.90 L530.0,413.97 L531.0,414.04 L532.0,414.11 L533.0,414.18 L534.0,414.25 L535.0,414.32 L536.0,414.39 L537.0,414.47 L538.0,414.53 L539.0,414.60 L540.0,414.67 L541.0,414.74 L542.0,414.81 L543.0,414.87 L544.0,414.94 L545.0,415.00 L546.0,415.07 L547.0,415.13 L548.0,415.19 L549.0,415.24 L550.0,415.30 L551.0,415.36 L552.0,415.41 L553.0,415.46 L554.0,415.52 L555.0,415.57 L556.0,415.63 L557.0,415.68 L558.0,415.73 L559.0,415.79 L560.0,415.84 L561.0,415.89 L562.0,415.95 L563.0,416.00 L564.0,416.05 L565.0,416.11 L566.0,416.16 L567.0,416.21 L568.0,416.27 L569.0,416.32 L570.0,416.37 L571.0,416.42 L572.0,416.48 L573.0,416.53 L574.0,416.58 L575.0,416.63 L576.0,416.69 L577.0,416.74 L578.0,416.79 L579.0,416.85 L580.0,416.90 L581.0,416.95 L582.0,417.01 L583.0,417.06 L584.0,417.11 L585.0,417.17 L586.0,417.22 L587.0,417.28 L588.0,417.33 L589.0,417.39 L590.0,417.44 L591.0,417.50 L592.0,417.55 L593.0,417.61 L594.0,417.67 L595.0,417.72 L596.0,417.78 L597.0,417.84 L598.0,417.90 L599.0,417.95 L600.0,418.01 L601.0,418.07 L602.0,418.13 L603.0,418.19 L604.0,418.26 L605.0,418.32 L606.0,418.38 L607.0,418.45 L608.0,418.51 L609.0,418.58 L610.0,418.64 L611.0,418.71 L612.0,418.77 L613.0,418.84 L614.0,418.91 L615.0,418.97 L616.0,419.04 L617.0,419.10 L618.0,419.17 L619.0,419.24 L620.0,419.30 L621.0,419.36 L622.0,419.43 L623.0,419.50 L624.0,419.56 L625.0,419.63 L626.0,419.70 L627.0,419.76 L628.0,419.83 L629.0,419.90 L630.0,419.96 L631.0,420.03 L632.0,420.10 L633.0,420.17 L634.0,420.24 L635.0,420.31 L636.0,420.37 L637.0,420.44 L638.0,420.51 L639.0,420.58 L640.0,420.65 L641.0,420.71 L642.0,420.78 L643.0,420.85 L644.0,420.92 L645.0,420.98 L646.0,421.05 L647.0,421.12 L648.0,421.18 L649.0,421.25 L650.0,421.31 L651.0,421.38 L652.0,421.44 L653.0,421.51 L654.0,421.57 L655.0,421.63 L656.0,421.69 L657.0,421.75 L658.0,421.82 L659.0,421.88 L660.0,421.93 L661.0,421.99 L662.0,422.05 L663.0,422.11 L664.0,422.17 L665.0,422.23 L666.0,422.28 L667.0,422.34 L668.0,422.40 L669.0,422.45 L670.0,422.51 L671.0,422.56 L672.0,422.62 L673.0,422.67 L674.0,422.73 L675.0,422.78 L676.0,422.84 L677.0,422.89 L678.0,422.94 L679.0,423.00 L680.0,423.05 L681.0,423.10 L682.0,423.15 L683.0,423.20 L684.0,423.25 L685.0,423.30 L686.0,423.35 L687.0,423.40 L688.0,423.45 L689.0,423.50 L690.0,423.55 L691.0,423.60 L692.0,423.65 L693.0,423.70 L694.0,423.75 L695.0,423.80 L696.0,423.84 L697.0,423.89 L698.0,423.94 L699.0,423.98 L700.0,424.03 L701.0,424.08 L702.0,424.12 L703.0,424.17 L704.0,424.21 L705.0,424.26 L706.0,424.30 L707.0,424.35 L708.0,424.39 L709.0,424.44 L710.0,424.48 L711.0,424.53 L712.0,424.57 L713.0,424.62 L714.0,424.66 L715.0,424.70 L716.0,424.75 L717.0,424.79 L718.0,424.83 L719.0,424.87 L720.0,424.92 L721.0,424.96 L722.0,425.00 L723.0,425.04 L724.0,425.08 L725.0,425.12 L726.0,425.16 L727.0,425.20 L728.0,425.24 L729.0,425.28 L730.0,425.32 L731.0,425.36 L732.0,425.40" fill="none" stroke="#b8b8c4" stroke-width="1.6" stroke-linejoin="round"/>
<path d="M95.0,112.50 L96.0,127.67 L97.0,142.94 L98.0,158.54 L99.0,173.90 L100.0,186.24 L101.0,196.42 L102.0,205.50 L103.0,214.01 L104.0,221.89 L105.0,229.00 L106.0,235.22 L107.0,240.92 L108.0,246.73 L109.0,252.72 L110.0,258.54 L111.0,263.83 L112.0,268.61 L113.0,273.05 L114.0,277.14 L115.0,280.84 L116.0,284.22 L117.0,287.35 L118.0,290.35 L119.0,293.32 L120.0,296.20 L121.0,298.81 L122.0,301.02 L123.0,302.88 L124.0,304.54 L125.0,305.99 L126.0,307.22 L127.0,308.26 L128.0,309.26 L129.0,310.26 L130.0,311.22 L131.0,312.09 L132.0,312.81 L133.0,313.28 L134.0,313.45 L135.0,313.28 L136.0,312.81 L137.0,312.14 L138.0,311.30 L139.0,310.39 L140.0,309.40 L141.0,308.35 L142.0,307.24 L143.0,306.02 L144.0,304.70 L145.0,303.29 L146.0,301.81 L147.0,300.24 L148.0,298.55 L149.0,296.67 L150.0,294.56 L151.0,292.22 L152.0,289.64 L153.0,286.77 L154.0,283.70 L155.0,280.53 L156.0,277.32 L157.0,274.06 L158.0,270.69 L159.0,267.10 L160.0,263.21 L161.0,258.71 L162.0,253.69 L163.0,248.42 L164.0,243.17 L165.0,238.01 L166.0,232.78 L167.0,227.39 L168.0,221.75 L169.0,215.75 L170.0,209.33 L171.0,202.65 L172.0,195.92 L173.0,189.13 L174.0,182.22 L175.0,175.38 L176.0,168.73 L177.0,162.40 L178.0,156.39 L179.0,150.68 L180.0,145.25 L181.0,140.06 L182.0,135.09 L183.0,130.32 L184.0,125.83 L185.0,121.64 L186.0,117.82 L187.0,114.28 L188.0,110.93 L189.0,107.82 L190.0,105.03 L191.0,102.65 L192.0,100.62 L193.0,98.81 L194.0,97.28 L195.0,96.15 L196.0,95.26 L197.0,94.56 L198.0,94.22 L199.0,94.32 L200.0,94.82 L201.0,95.77 L202.0,97.00 L203.0,98.73 L204.0,98.06 L205.0,99.00 L206.0,101.23 L207.0,104.23 L208.0,107.53 L209.0,112.28 L210.0,117.05 L211.0,122.01 L212.0,127.12 L213.0,132.29 L214.0,137.48 L215.0,142.56 L216.0,147.52 L217.0,152.64 L218.0,158.20 L219.0,164.56 L220.0,171.76 L221.0,179.26 L222.0,186.81 L223.0,194.58 L224.0,202.34 L225.0,210.49 L226.0,218.64 L227.0,226.11 L228.0,232.34 L229.0,237.75 L230.0,242.65 L231.0,246.51 L232.0,250.38 L233.0,254.36 L234.0,258.55 L235.0,262.94 L236.0,267.44 L237.0,271.98 L238.0,276.52 L239.0,281.34 L240.0,286.02 L241.0,290.55 L242.0,294.96 L243.0,299.27 L244.0,303.48 L245.0,307.57 L246.0,311.51 L247.0,315.27 L248.0,318.83 L249.0,322.23 L250.0,325.50 L251.0,328.64 L252.0,331.61 L253.0,334.40 L254.0,336.95 L255.0,339.22 L256.0,341.20 L257.0,343.02 L258.0,344.81 L259.0,346.69 L260.0,348.79 L261.0,351.32 L262.0,354.55 L263.0,358.17 L264.0,361.83 L265.0,365.16 L266.0,368.14 L267.0,370.99 L268.0,373.67 L269.0,376.18 L270.0,378.51 L271.0,380.75 L272.0,382.94 L273.0,385.05 L274.0,387.03 L275.0,388.84 L276.0,390.44 L277.0,391.79 L278.0,393.02 L279.0,394.16 L280.0,395.20 L281.0,396.16 L282.0,397.05 L283.0,397.90 L284.0,398.71 L285.0,399.50 L286.0,400.25 L287.0,400.96 L288.0,401.63 L289.0,402.25 L290.0,402.83 L291.0,403.36 L292.0,403.86 L293.0,404.33 L294.0,404.78 L295.0,405.20 L296.0,405.60 L297.0,405.96 L298.0,406.30 L299.0,406.59 L300.0,406.85 L301.0,407.08 L302.0,407.30 L303.0,407.51 L304.0,407.71 L305.0,407.90 L306.0,408.08 L307.0,408.24 L308.0,408.40 L309.0,408.55 L310.0,408.68 L311.0,408.81 L312.0,408.93 L313.0,409.03 L314.0,409.13 L315.0,409.22 L316.0,409.30 L317.0,409.38 L318.0,409.46 L319.0,409.53 L320.0,409.60 L321.0,409.66 L322.0,409.72 L323.0,409.78 L324.0,409.84 L325.0,409.88 L326.0,409.93 L327.0,409.98 L328.0,410.02 L329.0,410.06 L330.0,410.11 L331.0,410.15 L332.0,410.18 L333.0,410.22 L334.0,410.26 L335.0,410.29 L336.0,410.33 L337.0,410.36 L338.0,410.39 L339.0,410.42 L340.0,410.45 L341.0,410.48 L342.0,410.50 L343.0,410.53 L344.0,410.55 L345.0,410.57 L346.0,410.59 L347.0,410.61 L348.0,410.63 L349.0,410.64 L350.0,410.66 L351.0,410.67 L352.0,410.69 L353.0,410.70 L354.0,410.71 L355.0,410.72 L356.0,410.73 L357.0,410.74 L358.0,410.75 L359.0,410.76 L360.0,410.77 L361.0,410.78 L362.0,410.79 L363.0,410.79 L364.0,410.80 L365.0,410.80 L366.0,410.81 L367.0,410.81 L368.0,410.81 L369.0,410.82 L370.0,410.82 L371.0,410.82 L372.0,410.82 L373.0,410.82 L374.0,410.82 L375.0,410.82 L376.0,410.82 L377.0,410.82 L378.0,410.82 L379.0,410.82 L380.0,410.82 L381.0,410.81 L382.0,410.81 L383.0,410.81 L384.0,410.80 L385.0,410.80 L386.0,410.79 L387.0,410.79 L388.0,410.78 L389.0,410.78 L390.0,410.77 L391.0,410.77 L392.0,410.76 L393.0,410.75 L394.0,410.75 L395.0,410.74 L396.0,410.73 L397.0,410.72 L398.0,410.72 L399.0,410.71 L400.0,410.70 L401.0,410.69 L402.0,410.68 L403.0,410.67 L404.0,410.66 L405.0,410.66 L406.0,410.65 L407.0,410.64 L408.0,410.63 L409.0,410.62 L410.0,410.61 L411.0,410.60 L412.0,410.59 L413.0,410.58 L414.0,410.56 L415.0,410.55 L416.0,410.54 L417.0,410.53 L418.0,410.52 L419.0,410.51 L420.0,410.50 L421.0,410.49 L422.0,410.48 L423.0,410.47 L424.0,410.46 L425.0,410.45 L426.0,410.44 L427.0,410.43 L428.0,410.42 L429.0,410.42 L430.0,410.41 L431.0,410.40 L432.0,410.39 L433.0,410.38 L434.0,410.38 L435.0,410.37 L436.0,410.36 L437.0,410.35 L438.0,410.35 L439.0,410.34 L440.0,410.34 L441.0,410.33 L442.0,410.33 L443.0,410.32 L444.0,410.32 L445.0,410.32 L446.0,410.31 L447.0,410.31 L448.0,410.31 L449.0,410.31 L450.0,410.31 L451.0,410.31 L452.0,410.31 L453.0,410.31 L454.0,410.31 L455.0,410.31 L456.0,410.31 L457.0,410.31 L458.0,410.31 L459.0,410.30 L460.0,410.30 L461.0,410.30 L462.0,410.30 L463.0,410.30 L464.0,410.30 L465.0,410.30 L466.0,410.30 L467.0,410.30 L468.0,410.30 L469.0,410.30 L470.0,410.30 L471.0,410.30 L472.0,410.30 L473.0,410.30 L474.0,410.30 L475.0,410.30 L476.0,410.30 L477.0,410.30 L478.0,410.31 L479.0,410.31 L480.0,410.31 L481.0,410.32 L482.0,410.32 L483.0,410.33 L484.0,410.33 L485.0,410.34 L486.0,410.34 L487.0,410.35 L488.0,410.36 L489.0,410.37 L490.0,410.37 L491.0,410.38 L492.0,410.39 L493.0,410.40 L494.0,410.42 L495.0,410.43 L496.0,410.44 L497.0,410.45 L498.0,410.47 L499.0,410.48 L500.0,410.50 L501.0,410.52 L502.0,410.54 L503.0,410.57 L504.0,410.60 L505.0,410.63 L506.0,410.66 L507.0,410.70 L508.0,410.74 L509.0,410.79 L510.0,410.84 L511.0,410.89 L512.0,410.94 L513.0,410.99 L514.0,411.05 L515.0,411.11 L516.0,411.17 L517.0,411.24 L518.0,411.30 L519.0,411.37 L520.0,411.44 L521.0,411.51 L522.0,411.58 L523.0,411.65 L524.0,411.73 L525.0,411.80 L526.0,411.88 L527.0,411.96 L528.0,412.04 L529.0,412.11 L530.0,412.19 L531.0,412.27 L532.0,412.35 L533.0,412.43 L534.0,412.51 L535.0,412.59 L536.0,412.67 L537.0,412.75 L538.0,412.83 L539.0,412.91 L540.0,412.98 L541.0,413.06 L542.0,413.14 L543.0,413.21 L544.0,413.29 L545.0,413.36 L546.0,413.43 L547.0,413.50 L548.0,413.57 L549.0,413.64 L550.0,413.70 L551.0,413.76 L552.0,413.83 L553.0,413.89 L554.0,413.95 L555.0,414.02 L556.0,414.08 L557.0,414.14 L558.0,414.20 L559.0,414.27 L560.0,414.33 L561.0,414.39 L562.0,414.45 L563.0,414.51 L564.0,414.57 L565.0,414.64 L566.0,414.70 L567.0,414.76 L568.0,414.82 L569.0,414.88 L570.0,414.94 L571.0,415.01 L572.0,415.07 L573.0,415.13 L574.0,415.19 L575.0,415.25 L576.0,415.31 L577.0,415.38 L578.0,415.44 L579.0,415.50 L580.0,415.56 L581.0,415.63 L582.0,415.69 L583.0,415.75 L584.0,415.82 L585.0,415.88 L586.0,415.95 L587.0,416.01 L588.0,416.08 L589.0,416.14 L590.0,416.21 L591.0,416.27 L592.0,416.34 L593.0,416.41 L594.0,416.47 L595.0,416.54 L596.0,416.61 L597.0,416.68 L598.0,416.75 L599.0,416.82 L600.0,416.89 L601.0,416.96 L602.0,417.03 L603.0,417.10 L604.0,417.18 L605.0,417.26 L606.0,417.33 L607.0,417.41 L608.0,417.49 L609.0,417.57 L610.0,417.65 L611.0,417.73 L612.0,417.81 L613.0,417.89 L614.0,417.97 L615.0,418.05 L616.0,418.13 L617.0,418.21 L618.0,418.29 L619.0,418.37 L620.0,418.45 L621.0,418.53 L622.0,418.61 L623.0,418.69 L624.0,418.77 L625.0,418.84 L626.0,418.93 L627.0,419.01 L628.0,419.09 L629.0,419.17 L630.0,419.25 L631.0,419.33 L632.0,419.41 L633.0,419.49 L634.0,419.57 L635.0,419.66 L636.0,419.74 L637.0,419.82 L638.0,419.90 L639.0,419.98 L640.0,420.06 L641.0,420.14 L642.0,420.22 L643.0,420.30 L644.0,420.38 L645.0,420.46 L646.0,420.54 L647.0,420.62 L648.0,420.70 L649.0,420.77 L650.0,420.85 L651.0,420.92 L652.0,421.00 L653.0,421.07 L654.0,421.15 L655.0,421.22 L656.0,421.29 L657.0,421.36 L658.0,421.43 L659.0,421.50 L660.0,421.57 L661.0,421.63 L662.0,421.70 L663.0,421.77 L664.0,421.83 L665.0,421.90 L666.0,421.96 L667.0,422.03 L668.0,422.09 L669.0,422.15 L670.0,422.22 L671.0,422.28 L672.0,422.34 L673.0,422.40 L674.0,422.46 L675.0,422.53 L676.0,422.59 L677.0,422.65 L678.0,422.70 L679.0,422.76 L680.0,422.82 L681.0,422.88 L682.0,422.94 L683.0,422.99 L684.0,423.05 L685.0,423.11 L686.0,423.16 L687.0,423.22 L688.0,423.27 L689.0,423.33 L690.0,423.38 L691.0,423.43 L692.0,423.49 L693.0,423.54 L694.0,423.59 L695.0,423.65 L696.0,423.70 L697.0,423.75 L698.0,423.80 L699.0,423.85 L700.0,423.90 L701.0,423.95 L702.0,424.00 L703.0,424.05 L704.0,424.10 L705.0,424.15 L706.0,424.20 L707.0,424.25 L708.0,424.29 L709.0,424.34 L710.0,424.39 L711.0,424.44 L712.0,424.48 L713.0,424.53 L714.0,424.58 L715.0,424.62 L716.0,424.67 L717.0,424.71 L718.0,424.76 L719.0,424.80 L720.0,424.85 L721.0,424.89 L722.0,424.93 L723.0,424.98 L724.0,425.02 L725.0,425.06 L726.0,425.11 L727.0,425.15 L728.0,425.19 L729.0,425.23 L730.0,425.27 L731.0,425.31 L732.0,425.35" fill="none" stroke="#a4a4a8" stroke-width="1.6" stroke-linejoin="round"/>
<path d="M95.0,110.00 L96.0,125.14 L97.0,140.59 L98.0,156.47 L99.0,172.28 L100.0,184.79 L101.0,194.99 L102.0,204.00 L103.0,212.35 L104.0,220.03 L105.0,227.00 L106.0,233.18 L107.0,238.87 L108.0,244.63 L109.0,250.55 L110.0,256.32 L111.0,261.55 L112.0,266.23 L113.0,270.55 L114.0,274.51 L115.0,278.10 L116.0,281.33 L117.0,284.30 L118.0,287.13 L119.0,289.90 L120.0,292.57 L121.0,294.98 L122.0,297.03 L123.0,298.76 L124.0,300.32 L125.0,301.66 L126.0,302.76 L127.0,303.68 L128.0,304.56 L129.0,305.44 L130.0,306.28 L131.0,307.03 L132.0,307.65 L133.0,308.03 L134.0,308.12 L135.0,307.88 L136.0,307.38 L137.0,306.67 L138.0,305.83 L139.0,304.90 L140.0,303.90 L141.0,302.80 L142.0,301.62 L143.0,300.31 L144.0,298.90 L145.0,297.41 L146.0,295.84 L147.0,294.18 L148.0,292.40 L149.0,290.43 L150.0,288.21 L151.0,285.76 L152.0,283.03 L153.0,279.94 L154.0,276.59 L155.0,273.12 L156.0,269.59 L157.0,266.05 L158.0,262.43 L159.0,258.60 L160.0,254.51 L161.0,249.89 L162.0,244.81 L163.0,239.51 L164.0,234.22 L165.0,229.00 L166.0,223.68 L167.0,218.22 L168.0,212.55 L169.0,206.58 L170.0,200.28 L171.0,193.78 L172.0,187.23 L173.0,180.65 L174.0,174.01 L175.0,167.47 L176.0,161.13 L177.0,155.10 L178.0,149.39 L179.0,144.01 L180.0,138.92 L181.0,134.09 L182.0,129.47 L183.0,125.08 L184.0,121.01 L185.0,117.21 L186.0,113.76 L187.0,110.58 L188.0,107.58 L189.0,104.81 L190.0,102.31 L191.0,100.20 L192.0,98.42 L193.0,96.84 L194.0,95.51 L195.0,94.53 L196.0,93.77 L197.0,93.21 L198.0,93.03 L199.0,93.26 L200.0,93.89 L201.0,95.03 L202.0,96.50 L203.0,98.42 L204.0,97.94 L205.0,99.00 L206.0,101.27 L207.0,104.27 L208.0,107.53 L209.0,112.28 L210.0,117.05 L211.0,122.01 L212.0,127.12 L213.0,132.29 L214.0,137.48 L215.0,142.56 L216.0,147.52 L217.0,152.64 L218.0,158.20 L219.0,164.56 L220.0,171.76 L221.0,179.26 L222.0,186.81 L223.0,194.58 L224.0,202.34 L225.0,210.49 L226.0,218.64 L227.0,226.11 L228.0,232.34 L229.0,237.75 L230.0,242.65 L231.0,246.48 L232.0,250.30 L233.0,254.21 L234.0,258.32 L235.0,262.62 L236.0,267.01 L237.0,271.43 L238.0,275.84 L239.0,280.60 L240.0,285.24 L241.0,289.74 L242.0,294.10 L243.0,298.38 L244.0,302.54 L245.0,306.58 L246.0,310.49 L247.0,314.22 L248.0,317.77 L249.0,321.16 L250.0,324.43 L251.0,327.56 L252.0,330.54 L253.0,333.35 L254.0,335.94 L255.0,338.26 L256.0,340.32 L257.0,342.21 L258.0,344.05 L259.0,345.96 L260.0,348.04 L261.0,350.50 L262.0,353.55 L263.0,356.94 L264.0,360.38 L265.0,363.55 L266.0,366.42 L267.0,369.15 L268.0,371.72 L269.0,374.11 L270.0,376.35 L271.0,378.49 L272.0,380.58 L273.0,382.59 L274.0,384.49 L275.0,386.25 L276.0,387.82 L277.0,389.18 L278.0,390.43 L279.0,391.58 L280.0,392.65 L281.0,393.63 L282.0,394.56 L283.0,395.44 L284.0,396.29 L285.0,397.10 L286.0,397.88 L287.0,398.62 L288.0,399.32 L289.0,399.97 L290.0,400.57 L291.0,401.12 L292.0,401.64 L293.0,402.14 L294.0,402.61 L295.0,403.06 L296.0,403.48 L297.0,403.86 L298.0,404.22 L299.0,404.53 L300.0,404.80 L301.0,405.04 L302.0,405.28 L303.0,405.50 L304.0,405.71 L305.0,405.90 L306.0,406.09 L307.0,406.27 L308.0,406.43 L309.0,406.58 L310.0,406.73 L311.0,406.86 L312.0,406.98 L313.0,407.09 L314.0,407.19 L315.0,407.29 L316.0,407.38 L317.0,407.47 L318.0,407.55 L319.0,407.63 L320.0,407.70 L321.0,407.77 L322.0,407.83 L323.0,407.90 L324.0,407.95 L325.0,408.00 L326.0,408.05 L327.0,408.09 L328.0,408.14 L329.0,408.18 L330.0,408.23 L331.0,408.27 L332.0,408.31 L333.0,408.35 L334.0,408.38 L335.0,408.42 L336.0,408.45 L337.0,408.49 L338.0,408.52 L339.0,408.55 L340.0,408.58 L341.0,408.60 L342.0,408.63 L343.0,408.65 L344.0,408.68 L345.0,408.70 L346.0,408.72 L347.0,408.74 L348.0,408.75 L349.0,408.77 L350.0,408.78 L351.0,408.79 L352.0,408.80 L353.0,408.81 L354.0,408.82 L355.0,408.83 L356.0,408.84 L357.0,408.84 L358.0,408.85 L359.0,408.86 L360.0,408.86 L361.0,408.86 L362.0,408.87 L363.0,408.87 L364.0,408.87 L365.0,408.87 L366.0,408.87 L367.0,408.87 L368.0,408.87 L369.0,408.86 L370.0,408.86 L371.0,408.86 L372.0,408.85 L373.0,408.85 L374.0,408.84 L375.0,408.84 L376.0,408.83 L377.0,408.83 L378.0,408.82 L379.0,408.81 L380.0,408.80 L381.0,408.80 L382.0,408.79 L383.0,408.78 L384.0,408.77 L385.0,408.76 L386.0,408.75 L387.0,408.74 L388.0,408.73 L389.0,408.72 L390.0,408.71 L391.0,408.70 L392.0,408.69 L393.0,408.68 L394.0,408.67 L395.0,408.66 L396.0,408.64 L397.0,408.63 L398.0,408.62 L399.0,408.61 L400.0,408.60 L401.0,408.59 L402.0,408.58 L403.0,408.57 L404.0,408.55 L405.0,408.54 L406.0,408.53 L407.0,408.51 L408.0,408.50 L409.0,408.49 L410.0,408.47 L411.0,408.46 L412.0,408.45 L413.0,408.43 L414.0,408.42 L415.0,408.41 L416.0,408.39 L417.0,408.38 L418.0,408.36 L419.0,408.35 L420.0,408.34 L421.0,408.32 L422.0,408.31 L423.0,408.30 L424.0,408.28 L425.0,408.27 L426.0,408.26 L427.0,408.25 L428.0,408.23 L429.0,408.22 L430.0,408.21 L431.0,408.20 L432.0,408.19 L433.0,408.18 L434.0,408.17 L435.0,408.16 L436.0,408.15 L437.0,408.14 L438.0,408.13 L439.0,408.12 L440.0,408.12 L441.0,408.11 L442.0,408.10 L443.0,408.10 L444.0,408.09 L445.0,408.09 L446.0,408.09 L447.0,408.08 L448.0,408.08 L449.0,408.08 L450.0,408.08 L451.0,408.08 L452.0,408.08 L453.0,408.08 L454.0,408.08 L455.0,408.08 L456.0,408.08 L457.0,408.08 L458.0,408.08 L459.0,408.09 L460.0,408.09 L461.0,408.09 L462.0,408.09 L463.0,408.10 L464.0,408.10 L465.0,408.10 L466.0,408.10 L467.0,408.11 L468.0,408.11 L469.0,408.12 L470.0,408.12 L471.0,408.13 L472.0,408.13 L473.0,408.14 L474.0,408.14 L475.0,408.15 L476.0,408.16 L477.0,408.17 L478.0,408.17 L479.0,408.18 L480.0,408.19 L481.0,408.20 L482.0,408.21 L483.0,408.22 L484.0,408.23 L485.0,408.25 L486.0,408.26 L487.0,408.27 L488.0,408.29 L489.0,408.30 L490.0,408.31 L491.0,408.33 L492.0,408.35 L493.0,408.36 L494.0,408.38 L495.0,408.40 L496.0,408.42 L497.0,408.44 L498.0,408.46 L499.0,408.48 L500.0,408.50 L501.0,408.52 L502.0,408.55 L503.0,408.58 L504.0,408.62 L505.0,408.66 L506.0,408.70 L507.0,408.75 L508.0,408.79 L509.0,408.85 L510.0,408.90 L511.0,408.96 L512.0,409.02 L513.0,409.08 L514.0,409.14 L515.0,409.21 L516.0,409.28 L517.0,409.35 L518.0,409.43 L519.0,409.50 L520.0,409.58 L521.0,409.66 L522.0,409.74 L523.0,409.82 L524.0,409.90 L525.0,409.98 L526.0,410.07 L527.0,410.15 L528.0,410.24 L529.0,410.33 L530.0,410.42 L531.0,410.50 L532.0,410.59 L533.0,410.68 L534.0,410.77 L535.0,410.86 L536.0,410.95 L537.0,411.03 L538.0,411.12 L539.0,411.21 L540.0,411.30 L541.0,411.38 L542.0,411.47 L543.0,411.55 L544.0,411.63 L545.0,411.72 L546.0,411.80 L547.0,411.87 L548.0,411.95 L549.0,412.03 L550.0,412.10 L551.0,412.17 L552.0,412.24 L553.0,412.32 L554.0,412.39 L555.0,412.46 L556.0,412.53 L557.0,412.60 L558.0,412.67 L559.0,412.74 L560.0,412.81 L561.0,412.88 L562.0,412.95 L563.0,413.03 L564.0,413.10 L565.0,413.17 L566.0,413.24 L567.0,413.31 L568.0,413.38 L569.0,413.45 L570.0,413.52 L571.0,413.59 L572.0,413.66 L573.0,413.73 L574.0,413.80 L575.0,413.87 L576.0,413.94 L577.0,414.01 L578.0,414.08 L579.0,414.16 L580.0,414.23 L581.0,414.30 L582.0,414.37 L583.0,414.45 L584.0,414.52 L585.0,414.59 L586.0,414.67 L587.0,414.74 L588.0,414.82 L589.0,414.89 L590.0,414.97 L591.0,415.05 L592.0,415.12 L593.0,415.20 L594.0,415.28 L595.0,415.36 L596.0,415.44 L597.0,415.52 L598.0,415.60 L599.0,415.68 L600.0,415.76 L601.0,415.84 L602.0,415.93 L603.0,416.01 L604.0,416.10 L605.0,416.19 L606.0,416.28 L607.0,416.38 L608.0,416.47 L609.0,416.56 L610.0,416.66 L611.0,416.75 L612.0,416.85 L613.0,416.94 L614.0,417.04 L615.0,417.13 L616.0,417.23 L617.0,417.32 L618.0,417.42 L619.0,417.51 L620.0,417.60 L621.0,417.69 L622.0,417.78 L623.0,417.88 L624.0,417.97 L625.0,418.06 L626.0,418.15 L627.0,418.25 L628.0,418.34 L629.0,418.44 L630.0,418.53 L631.0,418.63 L632.0,418.72 L633.0,418.82 L634.0,418.91 L635.0,419.01 L636.0,419.10 L637.0,419.20 L638.0,419.29 L639.0,419.38 L640.0,419.48 L641.0,419.57 L642.0,419.66 L643.0,419.76 L644.0,419.85 L645.0,419.94 L646.0,420.03 L647.0,420.12 L648.0,420.21 L649.0,420.30 L650.0,420.39 L651.0,420.47 L652.0,420.56 L653.0,420.64 L654.0,420.73 L655.0,420.81 L656.0,420.89 L657.0,420.97 L658.0,421.05 L659.0,421.12 L660.0,421.20 L661.0,421.28 L662.0,421.35 L663.0,421.42 L664.0,421.50 L665.0,421.57 L666.0,421.64 L667.0,421.71 L668.0,421.79 L669.0,421.86 L670.0,421.93 L671.0,422.00 L672.0,422.06 L673.0,422.13 L674.0,422.20 L675.0,422.27 L676.0,422.33 L677.0,422.40 L678.0,422.47 L679.0,422.53 L680.0,422.60 L681.0,422.66 L682.0,422.72 L683.0,422.78 L684.0,422.85 L685.0,422.91 L686.0,422.97 L687.0,423.03 L688.0,423.09 L689.0,423.15 L690.0,423.21 L691.0,423.27 L692.0,423.33 L693.0,423.38 L694.0,423.44 L695.0,423.50 L696.0,423.55 L697.0,423.61 L698.0,423.66 L699.0,423.72 L700.0,423.77 L701.0,423.83 L702.0,423.88 L703.0,423.93 L704.0,423.99 L705.0,424.04 L706.0,424.09 L707.0,424.14 L708.0,424.19 L709.0,424.24 L710.0,424.29 L711.0,424.34 L712.0,424.39 L713.0,424.44 L714.0,424.49 L715.0,424.54 L716.0,424.59 L717.0,424.64 L718.0,424.68 L719.0,424.73 L720.0,424.78 L721.0,424.82 L722.0,424.87 L723.0,424.91 L724.0,424.96 L725.0,425.00 L726.0,425.05 L727.0,425.09 L728.0,425.13 L729.0,425.18 L730.0,425.22 L731.0,425.26 L732.0,425.30" fill="none" stroke="#999999" stroke-width="1.6" stroke-linejoin="round"/>
<path d="M95.0,107.00 L96.0,122.11 L97.0,137.77 L98.0,153.99 L99.0,170.32 L100.0,183.05 L101.0,193.27 L102.0,202.20 L103.0,210.36 L104.0,217.80 L105.0,224.60 L106.0,230.73 L107.0,236.40 L108.0,242.10 L109.0,247.94 L110.0,253.65 L111.0,258.82 L112.0,263.37 L113.0,267.55 L114.0,271.37 L115.0,274.80 L116.0,277.86 L117.0,280.65 L118.0,283.27 L119.0,285.81 L120.0,288.22 L121.0,290.39 L122.0,292.23 L123.0,293.83 L124.0,295.24 L125.0,296.45 L126.0,297.41 L127.0,298.18 L128.0,298.92 L129.0,299.65 L130.0,300.35 L131.0,300.96 L132.0,301.46 L133.0,301.73 L134.0,301.72 L135.0,301.41 L136.0,300.86 L137.0,300.12 L138.0,299.25 L139.0,298.32 L140.0,297.30 L141.0,296.14 L142.0,294.87 L143.0,293.46 L144.0,291.95 L145.0,290.34 L146.0,288.67 L147.0,286.91 L148.0,285.02 L149.0,282.93 L150.0,280.60 L151.0,278.01 L152.0,275.10 L153.0,271.74 L154.0,268.07 L155.0,264.23 L156.0,260.33 L157.0,256.44 L158.0,252.51 L159.0,248.41 L160.0,244.07 L161.0,239.31 L162.0,234.16 L163.0,228.83 L164.0,223.49 L165.0,218.18 L166.0,212.77 L167.0,207.22 L168.0,201.51 L169.0,195.58 L170.0,189.42 L171.0,183.13 L172.0,176.80 L173.0,170.48 L174.0,164.15 L175.0,157.98 L176.0,152.02 L177.0,146.34 L178.0,140.99 L179.0,136.01 L180.0,131.34 L181.0,126.91 L182.0,122.73 L183.0,118.81 L184.0,115.22 L185.0,111.90 L186.0,108.89 L187.0,106.14 L188.0,103.56 L189.0,101.19 L190.0,99.06 L191.0,97.27 L192.0,95.77 L193.0,94.48 L194.0,93.39 L195.0,92.59 L196.0,91.97 L197.0,91.59 L198.0,91.59 L199.0,91.99 L200.0,92.76 L201.0,94.14 L202.0,95.90 L203.0,98.06 L204.0,97.80 L205.0,99.00 L206.0,101.32 L207.0,104.30 L208.0,107.53 L209.0,112.28 L210.0,117.05 L211.0,122.01 L212.0,127.12 L213.0,132.29 L214.0,137.48 L215.0,142.56 L216.0,147.52 L217.0,152.64 L218.0,158.20 L219.0,164.56 L220.0,171.76 L221.0,179.26 L222.0,186.81 L223.0,194.58 L224.0,202.34 L225.0,210.49 L226.0,218.64 L227.0,226.11 L228.0,232.34 L229.0,237.75 L230.0,242.65 L231.0,246.43 L232.0,250.20 L233.0,254.04 L234.0,258.05 L235.0,262.23 L236.0,266.49 L237.0,270.76 L238.0,275.01 L239.0,279.72 L240.0,284.31 L241.0,288.76 L242.0,293.08 L243.0,297.30 L244.0,301.41 L245.0,305.40 L246.0,309.26 L247.0,312.97 L248.0,316.50 L249.0,319.89 L250.0,323.15 L251.0,326.27 L252.0,329.26 L253.0,332.09 L254.0,334.72 L255.0,337.11 L256.0,339.25 L257.0,341.23 L258.0,343.14 L259.0,345.08 L260.0,347.15 L261.0,349.51 L262.0,352.35 L263.0,355.47 L264.0,358.65 L265.0,361.62 L266.0,364.34 L267.0,366.94 L268.0,369.38 L269.0,371.64 L270.0,373.75 L271.0,375.77 L272.0,377.75 L273.0,379.65 L274.0,381.45 L275.0,383.14 L276.0,384.68 L277.0,386.04 L278.0,387.31 L279.0,388.49 L280.0,389.59 L281.0,390.61 L282.0,391.56 L283.0,392.48 L284.0,393.37 L285.0,394.23 L286.0,395.04 L287.0,395.82 L288.0,396.55 L289.0,397.23 L290.0,397.85 L291.0,398.44 L292.0,398.99 L293.0,399.51 L294.0,400.01 L295.0,400.49 L296.0,400.93 L297.0,401.34 L298.0,401.72 L299.0,402.05 L300.0,402.34 L301.0,402.60 L302.0,402.85 L303.0,403.08 L304.0,403.30 L305.0,403.51 L306.0,403.71 L307.0,403.89 L308.0,404.07 L309.0,404.23 L310.0,404.38 L311.0,404.52 L312.0,404.64 L313.0,404.76 L314.0,404.87 L315.0,404.98 L316.0,405.07 L317.0,405.17 L318.0,405.26 L319.0,405.34 L320.0,405.42 L321.0,405.50 L322.0,405.57 L323.0,405.63 L324.0,405.69 L325.0,405.74 L326.0,405.79 L327.0,405.84 L328.0,405.88 L329.0,405.93 L330.0,405.97 L331.0,406.01 L332.0,406.05 L333.0,406.09 L334.0,406.13 L335.0,406.17 L336.0,406.20 L337.0,406.24 L338.0,406.27 L339.0,406.30 L340.0,406.33 L341.0,406.36 L342.0,406.38 L343.0,406.41 L344.0,406.43 L345.0,406.45 L346.0,406.47 L347.0,406.49 L348.0,406.50 L349.0,406.51 L350.0,406.52 L351.0,406.53 L352.0,406.54 L353.0,406.55 L354.0,406.55 L355.0,406.56 L356.0,406.56 L357.0,406.56 L358.0,406.57 L359.0,406.57 L360.0,406.57 L361.0,406.56 L362.0,406.56 L363.0,406.56 L364.0,406.55 L365.0,406.55 L366.0,406.54 L367.0,406.53 L368.0,406.53 L369.0,406.52 L370.0,406.51 L371.0,406.50 L372.0,406.49 L373.0,406.48 L374.0,406.47 L375.0,406.46 L376.0,406.44 L377.0,406.43 L378.0,406.42 L379.0,406.40 L380.0,406.39 L381.0,406.37 L382.0,406.36 L383.0,406.34 L384.0,406.33 L385.0,406.31 L386.0,406.30 L387.0,406.28 L388.0,406.27 L389.0,406.25 L390.0,406.23 L391.0,406.22 L392.0,406.20 L393.0,406.19 L394.0,406.17 L395.0,406.16 L396.0,406.14 L397.0,406.12 L398.0,406.11 L399.0,406.09 L400.0,406.08 L401.0,406.07 L402.0,406.05 L403.0,406.03 L404.0,406.02 L405.0,406.00 L406.0,405.99 L407.0,405.97 L408.0,405.95 L409.0,405.93 L410.0,405.92 L411.0,405.90 L412.0,405.88 L413.0,405.86 L414.0,405.85 L415.0,405.83 L416.0,405.81 L417.0,405.79 L418.0,405.77 L419.0,405.76 L420.0,405.74 L421.0,405.72 L422.0,405.70 L423.0,405.69 L424.0,405.67 L425.0,405.65 L426.0,405.63 L427.0,405.62 L428.0,405.60 L429.0,405.59 L430.0,405.57 L431.0,405.56 L432.0,405.54 L433.0,405.53 L434.0,405.52 L435.0,405.50 L436.0,405.49 L437.0,405.48 L438.0,405.47 L439.0,405.46 L440.0,405.45 L441.0,405.44 L442.0,405.43 L443.0,405.43 L444.0,405.42 L445.0,405.42 L446.0,405.41 L447.0,405.41 L448.0,405.41 L449.0,405.40 L450.0,405.40 L451.0,405.40 L452.0,405.41 L453.0,405.41 L454.0,405.41 L455.0,405.41 L456.0,405.41 L457.0,405.42 L458.0,405.42 L459.0,405.43 L460.0,405.43 L461.0,405.44 L462.0,405.44 L463.0,405.45 L464.0,405.46 L465.0,405.46 L466.0,405.47 L467.0,405.48 L468.0,405.49 L469.0,405.50 L470.0,405.51 L471.0,405.52 L472.0,405.53 L473.0,405.55 L474.0,405.56 L475.0,405.57 L476.0,405.59 L477.0,405.60 L478.0,405.62 L479.0,405.63 L480.0,405.65 L481.0,405.66 L482.0,405.68 L483.0,405.70 L484.0,405.72 L485.0,405.74 L486.0,405.76 L487.0,405.78 L488.0,405.80 L489.0,405.82 L490.0,405.84 L491.0,405.87 L492.0,405.89 L493.0,405.91 L494.0,405.94 L495.0,405.96 L496.0,405.99 L497.0,406.02 L498.0,406.04 L499.0,406.07 L500.0,406.10 L501.0,406.13 L502.0,406.17 L503.0,406.20 L504.0,406.25 L505.0,406.29 L506.0,406.34 L507.0,406.40 L508.0,406.45 L509.0,406.51 L510.0,406.58 L511.0,406.64 L512.0,406.71 L513.0,406.78 L514.0,406.86 L515.0,406.93 L516.0,407.01 L517.0,407.09 L518.0,407.17 L519.0,407.26 L520.0,407.34 L521.0,407.43 L522.0,407.52 L523.0,407.61 L524.0,407.71 L525.0,407.80 L526.0,407.90 L527.0,407.99 L528.0,408.09 L529.0,408.19 L530.0,408.28 L531.0,408.38 L532.0,408.48 L533.0,408.58 L534.0,408.68 L535.0,408.78 L536.0,408.88 L537.0,408.98 L538.0,409.08 L539.0,409.17 L540.0,409.27 L541.0,409.37 L542.0,409.46 L543.0,409.56 L544.0,409.65 L545.0,409.74 L546.0,409.83 L547.0,409.92 L548.0,410.01 L549.0,410.10 L550.0,410.18 L551.0,410.26 L552.0,410.35 L553.0,410.43 L554.0,410.51 L555.0,410.59 L556.0,410.67 L557.0,410.75 L558.0,410.84 L559.0,410.92 L560.0,411.00 L561.0,411.08 L562.0,411.16 L563.0,411.24 L564.0,411.32 L565.0,411.40 L566.0,411.48 L567.0,411.56 L568.0,411.64 L569.0,411.72 L570.0,411.80 L571.0,411.89 L572.0,411.97 L573.0,412.05 L574.0,412.13 L575.0,412.21 L576.0,412.29 L577.0,412.38 L578.0,412.46 L579.0,412.54 L580.0,412.63 L581.0,412.71 L582.0,412.79 L583.0,412.88 L584.0,412.96 L585.0,413.05 L586.0,413.14 L587.0,413.22 L588.0,413.31 L589.0,413.40 L590.0,413.49 L591.0,413.57 L592.0,413.66 L593.0,413.75 L594.0,413.85 L595.0,413.94 L596.0,414.03 L597.0,414.12 L598.0,414.22 L599.0,414.31 L600.0,414.41 L601.0,414.51 L602.0,414.60 L603.0,414.71 L604.0,414.81 L605.0,414.92 L606.0,415.03 L607.0,415.13 L608.0,415.24 L609.0,415.36 L610.0,415.47 L611.0,415.58 L612.0,415.69 L613.0,415.81 L614.0,415.92 L615.0,416.03 L616.0,416.14 L617.0,416.25 L618.0,416.36 L619.0,416.47 L620.0,416.58 L621.0,416.69 L622.0,416.79 L623.0,416.90 L624.0,417.01 L625.0,417.12 L626.0,417.23 L627.0,417.34 L628.0,417.45 L629.0,417.56 L630.0,417.67 L631.0,417.78 L632.0,417.90 L633.0,418.01 L634.0,418.12 L635.0,418.23 L636.0,418.34 L637.0,418.45 L638.0,418.56 L639.0,418.67 L640.0,418.78 L641.0,418.89 L642.0,419.00 L643.0,419.10 L644.0,419.21 L645.0,419.31 L646.0,419.42 L647.0,419.52 L648.0,419.63 L649.0,419.73 L650.0,419.83 L651.0,419.93 L652.0,420.03 L653.0,420.12 L654.0,420.22 L655.0,420.31 L656.0,420.41 L657.0,420.50 L658.0,420.59 L659.0,420.67 L660.0,420.76 L661.0,420.85 L662.0,420.93 L663.0,421.01 L664.0,421.09 L665.0,421.18 L666.0,421.26 L667.0,421.34 L668.0,421.42 L669.0,421.50 L670.0,421.58 L671.0,421.65 L672.0,421.73 L673.0,421.81 L674.0,421.88 L675.0,421.96 L676.0,422.03 L677.0,422.11 L678.0,422.18 L679.0,422.25 L680.0,422.32 L681.0,422.39 L682.0,422.46 L683.0,422.53 L684.0,422.60 L685.0,422.67 L686.0,422.74 L687.0,422.81 L688.0,422.87 L689.0,422.94 L690.0,423.00 L691.0,423.07 L692.0,423.13 L693.0,423.19 L694.0,423.26 L695.0,423.32 L696.0,423.38 L697.0,423.44 L698.0,423.50 L699.0,423.56 L700.0,423.62 L701.0,423.68 L702.0,423.73 L703.0,423.79 L704.0,423.85 L705.0,423.90 L706.0,423.96 L707.0,424.02 L708.0,424.07 L709.0,424.13 L710.0,424.18 L711.0,424.23 L712.0,424.29 L713.0,424.34 L714.0,424.39 L715.0,424.44 L716.0,424.50 L717.0,424.55 L718.0,424.60 L719.0,424.65 L720.0,424.70 L721.0,424.74 L722.0,424.79 L723.0,424.84 L724.0,424.89 L725.0,424.93 L726.0,424.98 L727.0,425.02 L728.0,425.07 L729.0,425.11 L730.0,425.16 L731.0,425.20 L732.0,425.24" fill="none" stroke="#a2a2a6" stroke-width="1.6" stroke-linejoin="round"/>
<path d="M95.0,104.00 L96.0,119.08 L97.0,134.95 L98.0,151.50 L99.0,168.37 L100.0,181.30 L101.0,191.55 L102.0,200.40 L103.0,208.37 L104.0,215.57 L105.0,222.20 L106.0,228.28 L107.0,233.94 L108.0,239.58 L109.0,245.34 L110.0,250.98 L111.0,256.09 L112.0,260.51 L113.0,264.54 L114.0,268.22 L115.0,271.51 L116.0,274.40 L117.0,276.99 L118.0,279.41 L119.0,281.72 L120.0,283.87 L121.0,285.79 L122.0,287.44 L123.0,288.89 L124.0,290.17 L125.0,291.24 L126.0,292.06 L127.0,292.69 L128.0,293.28 L129.0,293.87 L130.0,294.41 L131.0,294.89 L132.0,295.27 L133.0,295.43 L134.0,295.32 L135.0,294.94 L136.0,294.33 L137.0,293.56 L138.0,292.68 L139.0,291.74 L140.0,290.69 L141.0,289.48 L142.0,288.12 L143.0,286.62 L144.0,284.99 L145.0,283.28 L146.0,281.50 L147.0,279.64 L148.0,277.64 L149.0,275.44 L150.0,272.98 L151.0,270.26 L152.0,267.17 L153.0,263.55 L154.0,259.55 L155.0,255.34 L156.0,251.06 L157.0,246.83 L158.0,242.60 L159.0,238.21 L160.0,233.64 L161.0,228.72 L162.0,223.51 L163.0,218.14 L164.0,212.76 L165.0,207.36 L166.0,201.85 L167.0,196.22 L168.0,190.47 L169.0,184.58 L170.0,178.57 L171.0,172.47 L172.0,166.37 L173.0,160.30 L174.0,154.29 L175.0,148.48 L176.0,142.90 L177.0,137.58 L178.0,132.59 L179.0,128.01 L180.0,123.75 L181.0,119.74 L182.0,115.98 L183.0,112.53 L184.0,109.43 L185.0,106.59 L186.0,104.02 L187.0,101.69 L188.0,99.55 L189.0,97.58 L190.0,95.81 L191.0,94.33 L192.0,93.13 L193.0,92.12 L194.0,91.27 L195.0,90.65 L196.0,90.18 L197.0,89.96 L198.0,90.16 L199.0,90.72 L200.0,91.64 L201.0,93.25 L202.0,95.30 L203.0,97.69 L204.0,97.66 L205.0,99.01 L206.0,101.38 L207.0,104.34 L208.0,107.53 L209.0,112.28 L210.0,117.05 L211.0,122.01 L212.0,127.12 L213.0,132.29 L214.0,137.48 L215.0,142.56 L216.0,147.52 L217.0,152.64 L218.0,158.20 L219.0,164.56 L220.0,171.76 L221.0,179.26 L222.0,186.81 L223.0,194.58 L224.0,202.34 L225.0,210.49 L226.0,218.64 L227.0,226.11 L228.0,232.34 L229.0,237.75 L230.0,242.65 L231.0,246.39 L232.0,250.09 L233.0,253.86 L234.0,257.78 L235.0,261.84 L236.0,265.97 L237.0,270.10 L238.0,274.18 L239.0,278.83 L240.0,283.37 L241.0,287.78 L242.0,292.06 L243.0,296.23 L244.0,300.27 L245.0,304.22 L246.0,308.04 L247.0,311.72 L248.0,315.24 L249.0,318.61 L250.0,321.86 L251.0,324.98 L252.0,327.98 L253.0,330.83 L254.0,333.50 L255.0,335.96 L256.0,338.19 L257.0,340.26 L258.0,342.24 L259.0,344.21 L260.0,346.26 L261.0,348.53 L262.0,351.15 L263.0,354.00 L264.0,356.91 L265.0,359.68 L266.0,362.26 L267.0,364.73 L268.0,367.03 L269.0,369.16 L270.0,371.15 L271.0,373.06 L272.0,374.91 L273.0,376.70 L274.0,378.41 L275.0,380.03 L276.0,381.54 L277.0,382.90 L278.0,384.19 L279.0,385.40 L280.0,386.53 L281.0,387.58 L282.0,388.57 L283.0,389.53 L284.0,390.46 L285.0,391.35 L286.0,392.20 L287.0,393.01 L288.0,393.78 L289.0,394.49 L290.0,395.14 L291.0,395.75 L292.0,396.33 L293.0,396.89 L294.0,397.42 L295.0,397.92 L296.0,398.39 L297.0,398.82 L298.0,399.22 L299.0,399.57 L300.0,399.88 L301.0,400.16 L302.0,400.42 L303.0,400.66 L304.0,400.90 L305.0,401.12 L306.0,401.32 L307.0,401.52 L308.0,401.70 L309.0,401.87 L310.0,402.03 L311.0,402.17 L312.0,402.31 L313.0,402.43 L314.0,402.55 L315.0,402.66 L316.0,402.77 L317.0,402.87 L318.0,402.97 L319.0,403.06 L320.0,403.15 L321.0,403.23 L322.0,403.30 L323.0,403.37 L324.0,403.43 L325.0,403.48 L326.0,403.53 L327.0,403.58 L328.0,403.63 L329.0,403.67 L330.0,403.72 L331.0,403.76 L332.0,403.80 L333.0,403.84 L334.0,403.88 L335.0,403.92 L336.0,403.96 L337.0,403.99 L338.0,404.02 L339.0,404.05 L340.0,404.08 L341.0,404.11 L342.0,404.14 L343.0,404.16 L344.0,404.18 L345.0,404.20 L346.0,404.22 L347.0,404.23 L348.0,404.25 L349.0,404.26 L350.0,404.27 L351.0,404.27 L352.0,404.28 L353.0,404.28 L354.0,404.29 L355.0,404.29 L356.0,404.29 L357.0,404.28 L358.0,404.28 L359.0,404.28 L360.0,404.27 L361.0,404.26 L362.0,404.26 L363.0,404.25 L364.0,404.24 L365.0,404.23 L366.0,404.21 L367.0,404.20 L368.0,404.19 L369.0,404.17 L370.0,404.16 L371.0,404.14 L372.0,404.13 L373.0,404.11 L374.0,404.09 L375.0,404.07 L376.0,404.05 L377.0,404.03 L378.0,404.01 L379.0,403.99 L380.0,403.97 L381.0,403.95 L382.0,403.93 L383.0,403.91 L384.0,403.89 L385.0,403.87 L386.0,403.85 L387.0,403.82 L388.0,403.80 L389.0,403.78 L390.0,403.76 L391.0,403.74 L392.0,403.72 L393.0,403.70 L394.0,403.68 L395.0,403.66 L396.0,403.64 L397.0,403.62 L398.0,403.60 L399.0,403.58 L400.0,403.56 L401.0,403.54 L402.0,403.52 L403.0,403.50 L404.0,403.48 L405.0,403.46 L406.0,403.44 L407.0,403.42 L408.0,403.40 L409.0,403.38 L410.0,403.36 L411.0,403.34 L412.0,403.32 L413.0,403.29 L414.0,403.27 L415.0,403.25 L416.0,403.23 L417.0,403.20 L418.0,403.18 L419.0,403.16 L420.0,403.14 L421.0,403.12 L422.0,403.10 L423.0,403.07 L424.0,403.05 L425.0,403.03 L426.0,403.01 L427.0,402.99 L428.0,402.97 L429.0,402.95 L430.0,402.94 L431.0,402.92 L432.0,402.90 L433.0,402.88 L434.0,402.87 L435.0,402.85 L436.0,402.84 L437.0,402.82 L438.0,402.81 L439.0,402.80 L440.0,402.79 L441.0,402.78 L442.0,402.77 L443.0,402.76 L444.0,402.75 L445.0,402.74 L446.0,402.74 L447.0,402.73 L448.0,402.73 L449.0,402.73 L450.0,402.73 L451.0,402.73 L452.0,402.73 L453.0,402.73 L454.0,402.74 L455.0,402.74 L456.0,402.74 L457.0,402.75 L458.0,402.76 L459.0,402.76 L460.0,402.77 L461.0,402.78 L462.0,402.79 L463.0,402.80 L464.0,402.81 L465.0,402.83 L466.0,402.84 L467.0,402.85 L468.0,402.87 L469.0,402.88 L470.0,402.90 L471.0,402.92 L472.0,402.93 L473.0,402.95 L474.0,402.97 L475.0,402.99 L476.0,403.01 L477.0,403.03 L478.0,403.06 L479.0,403.08 L480.0,403.10 L481.0,403.13 L482.0,403.15 L483.0,403.18 L484.0,403.20 L485.0,403.23 L486.0,403.26 L487.0,403.28 L488.0,403.31 L489.0,403.34 L490.0,403.37 L491.0,403.40 L492.0,403.43 L493.0,403.46 L494.0,403.50 L495.0,403.53 L496.0,403.56 L497.0,403.60 L498.0,403.63 L499.0,403.66 L500.0,403.70 L501.0,403.74 L502.0,403.78 L503.0,403.83 L504.0,403.88 L505.0,403.93 L506.0,403.99 L507.0,404.05 L508.0,404.11 L509.0,404.18 L510.0,404.25 L511.0,404.33 L512.0,404.40 L513.0,404.48 L514.0,404.57 L515.0,404.65 L516.0,404.74 L517.0,404.83 L518.0,404.92 L519.0,405.02 L520.0,405.11 L521.0,405.21 L522.0,405.31 L523.0,405.41 L524.0,405.51 L525.0,405.62 L526.0,405.72 L527.0,405.83 L528.0,405.94 L529.0,406.04 L530.0,406.15 L531.0,406.26 L532.0,406.37 L533.0,406.48 L534.0,406.59 L535.0,406.70 L536.0,406.81 L537.0,406.92 L538.0,407.03 L539.0,407.14 L540.0,407.24 L541.0,407.35 L542.0,407.46 L543.0,407.56 L544.0,407.67 L545.0,407.77 L546.0,407.87 L547.0,407.97 L548.0,408.07 L549.0,408.17 L550.0,408.26 L551.0,408.35 L552.0,408.45 L553.0,408.54 L554.0,408.63 L555.0,408.72 L556.0,408.82 L557.0,408.91 L558.0,409.00 L559.0,409.09 L560.0,409.18 L561.0,409.27 L562.0,409.36 L563.0,409.45 L564.0,409.54 L565.0,409.64 L566.0,409.73 L567.0,409.82 L568.0,409.91 L569.0,410.00 L570.0,410.09 L571.0,410.18 L572.0,410.28 L573.0,410.37 L574.0,410.46 L575.0,410.55 L576.0,410.65 L577.0,410.74 L578.0,410.83 L579.0,410.93 L580.0,411.02 L581.0,411.12 L582.0,411.21 L583.0,411.31 L584.0,411.41 L585.0,411.50 L586.0,411.60 L587.0,411.70 L588.0,411.80 L589.0,411.90 L590.0,412.00 L591.0,412.10 L592.0,412.20 L593.0,412.31 L594.0,412.41 L595.0,412.52 L596.0,412.62 L597.0,412.73 L598.0,412.84 L599.0,412.95 L600.0,413.06 L601.0,413.17 L602.0,413.28 L603.0,413.40 L604.0,413.52 L605.0,413.64 L606.0,413.77 L607.0,413.89 L608.0,414.02 L609.0,414.15 L610.0,414.28 L611.0,414.41 L612.0,414.54 L613.0,414.67 L614.0,414.80 L615.0,414.93 L616.0,415.06 L617.0,415.19 L618.0,415.31 L619.0,415.44 L620.0,415.56 L621.0,415.68 L622.0,415.81 L623.0,415.93 L624.0,416.06 L625.0,416.18 L626.0,416.31 L627.0,416.43 L628.0,416.56 L629.0,416.69 L630.0,416.81 L631.0,416.94 L632.0,417.07 L633.0,417.20 L634.0,417.32 L635.0,417.45 L636.0,417.58 L637.0,417.70 L638.0,417.83 L639.0,417.95 L640.0,418.08 L641.0,418.20 L642.0,418.33 L643.0,418.45 L644.0,418.57 L645.0,418.69 L646.0,418.81 L647.0,418.93 L648.0,419.04 L649.0,419.16 L650.0,419.27 L651.0,419.39 L652.0,419.50 L653.0,419.61 L654.0,419.71 L655.0,419.82 L656.0,419.92 L657.0,420.03 L658.0,420.13 L659.0,420.22 L660.0,420.32 L661.0,420.41 L662.0,420.51 L663.0,420.60 L664.0,420.69 L665.0,420.78 L666.0,420.87 L667.0,420.96 L668.0,421.05 L669.0,421.14 L670.0,421.23 L671.0,421.31 L672.0,421.40 L673.0,421.48 L674.0,421.57 L675.0,421.65 L676.0,421.73 L677.0,421.81 L678.0,421.89 L679.0,421.97 L680.0,422.05 L681.0,422.13 L682.0,422.21 L683.0,422.28 L684.0,422.36 L685.0,422.43 L686.0,422.51 L687.0,422.58 L688.0,422.65 L689.0,422.73 L690.0,422.80 L691.0,422.87 L692.0,422.94 L693.0,423.01 L694.0,423.07 L695.0,423.14 L696.0,423.21 L697.0,423.27 L698.0,423.34 L699.0,423.40 L700.0,423.46 L701.0,423.53 L702.0,423.59 L703.0,423.65 L704.0,423.71 L705.0,423.77 L706.0,423.83 L707.0,423.89 L708.0,423.95 L709.0,424.01 L710.0,424.07 L711.0,424.12 L712.0,424.18 L713.0,424.24 L714.0,424.29 L715.0,424.35 L716.0,424.40 L717.0,424.46 L718.0,424.51 L719.0,424.56 L720.0,424.61 L721.0,424.66 L722.0,424.72 L723.0,424.77 L724.0,424.81 L725.0,424.86 L726.0,424.91 L727.0,424.96 L728.0,425.00 L729.0,425.05 L730.0,425.09 L731.0,425.14 L732.0,425.18" fill="none" stroke="#8e8e8e" stroke-width="1.6" stroke-linejoin="round"/>
<path d="M95.0,101.00 L96.0,116.06 L97.0,132.12 L98.0,149.02 L99.0,166.42 L100.0,179.56 L101.0,189.83 L102.0,198.60 L103.0,206.38 L104.0,213.34 L105.0,219.80 L106.0,225.83 L107.0,231.48 L108.0,237.05 L109.0,242.73 L110.0,248.32 L111.0,253.36 L112.0,257.65 L113.0,261.54 L114.0,265.08 L115.0,268.21 L116.0,270.93 L117.0,273.33 L118.0,275.55 L119.0,277.62 L120.0,279.52 L121.0,281.19 L122.0,282.65 L123.0,283.95 L124.0,285.10 L125.0,286.03 L126.0,286.70 L127.0,287.19 L128.0,287.65 L129.0,288.08 L130.0,288.48 L131.0,288.82 L132.0,289.08 L133.0,289.13 L134.0,288.92 L135.0,288.47 L136.0,287.81 L137.0,287.01 L138.0,286.11 L139.0,285.16 L140.0,284.09 L141.0,282.82 L142.0,281.38 L143.0,279.77 L144.0,278.04 L145.0,276.22 L146.0,274.34 L147.0,272.37 L148.0,270.26 L149.0,267.95 L150.0,265.37 L151.0,262.51 L152.0,259.24 L153.0,255.36 L154.0,251.03 L155.0,246.45 L156.0,241.80 L157.0,237.22 L158.0,232.68 L159.0,228.01 L160.0,223.20 L161.0,218.14 L162.0,212.86 L163.0,207.45 L164.0,202.02 L165.0,196.55 L166.0,190.94 L167.0,185.22 L168.0,179.43 L169.0,173.58 L170.0,167.71 L171.0,161.82 L172.0,155.94 L173.0,150.12 L174.0,144.43 L175.0,138.99 L176.0,133.78 L177.0,128.82 L178.0,124.19 L179.0,120.00 L180.0,116.17 L181.0,112.56 L182.0,109.24 L183.0,106.25 L184.0,103.64 L185.0,101.27 L186.0,99.15 L187.0,97.25 L188.0,95.53 L189.0,93.97 L190.0,92.56 L191.0,91.39 L192.0,90.49 L193.0,89.76 L194.0,89.15 L195.0,88.71 L196.0,88.39 L197.0,88.34 L198.0,88.72 L199.0,89.45 L200.0,90.51 L201.0,92.36 L202.0,94.70 L203.0,97.32 L204.0,97.52 L205.0,99.01 L206.0,101.43 L207.0,104.38 L208.0,107.53 L209.0,112.28 L210.0,117.05 L211.0,122.01 L212.0,127.12 L213.0,132.29 L214.0,137.48 L215.0,142.56 L216.0,147.52 L217.0,152.64 L218.0,158.20 L219.0,164.56 L220.0,171.76 L221.0,179.26 L222.0,186.81 L223.0,194.58 L224.0,202.34 L225.0,210.49 L226.0,218.64 L227.0,226.11 L228.0,232.34 L229.0,237.75 L230.0,242.65 L231.0,246.34 L232.0,249.99 L233.0,253.69 L234.0,257.51 L235.0,261.45 L236.0,265.45 L237.0,269.43 L238.0,273.36 L239.0,277.95 L240.0,282.44 L241.0,286.80 L242.0,291.04 L243.0,295.15 L244.0,299.14 L245.0,303.04 L246.0,306.82 L247.0,310.46 L248.0,313.97 L249.0,317.33 L250.0,320.57 L251.0,323.69 L252.0,326.70 L253.0,329.57 L254.0,332.28 L255.0,334.80 L256.0,337.13 L257.0,339.28 L258.0,341.33 L259.0,343.33 L260.0,345.37 L261.0,347.54 L262.0,349.95 L263.0,352.53 L264.0,355.17 L265.0,357.75 L266.0,360.19 L267.0,362.52 L268.0,364.69 L269.0,366.68 L270.0,368.56 L271.0,370.35 L272.0,372.08 L273.0,373.76 L274.0,375.37 L275.0,376.92 L276.0,378.39 L277.0,379.77 L278.0,381.07 L279.0,382.31 L280.0,383.47 L281.0,384.55 L282.0,385.58 L283.0,386.58 L284.0,387.54 L285.0,388.47 L286.0,389.36 L287.0,390.21 L288.0,391.01 L289.0,391.75 L290.0,392.43 L291.0,393.06 L292.0,393.67 L293.0,394.26 L294.0,394.82 L295.0,395.35 L296.0,395.84 L297.0,396.30 L298.0,396.72 L299.0,397.10 L300.0,397.42 L301.0,397.71 L302.0,397.99 L303.0,398.25 L304.0,398.49 L305.0,398.72 L306.0,398.94 L307.0,399.15 L308.0,399.34 L309.0,399.51 L310.0,399.68 L311.0,399.83 L312.0,399.97 L313.0,400.10 L314.0,400.23 L315.0,400.35 L316.0,400.46 L317.0,400.57 L318.0,400.68 L319.0,400.78 L320.0,400.87 L321.0,400.95 L322.0,401.03 L323.0,401.10 L324.0,401.17 L325.0,401.22 L326.0,401.27 L327.0,401.32 L328.0,401.37 L329.0,401.41 L330.0,401.46 L331.0,401.51 L332.0,401.55 L333.0,401.59 L334.0,401.63 L335.0,401.67 L336.0,401.71 L337.0,401.74 L338.0,401.78 L339.0,401.81 L340.0,401.84 L341.0,401.86 L342.0,401.89 L343.0,401.91 L344.0,401.94 L345.0,401.95 L346.0,401.97 L347.0,401.98 L348.0,402.00 L349.0,402.01 L350.0,402.01 L351.0,402.02 L352.0,402.02 L353.0,402.02 L354.0,402.02 L355.0,402.01 L356.0,402.01 L357.0,402.00 L358.0,402.00 L359.0,401.99 L360.0,401.98 L361.0,401.97 L362.0,401.95 L363.0,401.94 L364.0,401.92 L365.0,401.91 L366.0,401.89 L367.0,401.87 L368.0,401.85 L369.0,401.83 L370.0,401.81 L371.0,401.79 L372.0,401.76 L373.0,401.74 L374.0,401.71 L375.0,401.69 L376.0,401.66 L377.0,401.64 L378.0,401.61 L379.0,401.59 L380.0,401.56 L381.0,401.53 L382.0,401.50 L383.0,401.48 L384.0,401.45 L385.0,401.42 L386.0,401.39 L387.0,401.37 L388.0,401.34 L389.0,401.31 L390.0,401.28 L391.0,401.26 L392.0,401.23 L393.0,401.21 L394.0,401.18 L395.0,401.16 L396.0,401.13 L397.0,401.11 L398.0,401.08 L399.0,401.06 L400.0,401.04 L401.0,401.02 L402.0,401.00 L403.0,400.97 L404.0,400.95 L405.0,400.93 L406.0,400.90 L407.0,400.88 L408.0,400.85 L409.0,400.83 L410.0,400.80 L411.0,400.78 L412.0,400.75 L413.0,400.72 L414.0,400.70 L415.0,400.67 L416.0,400.64 L417.0,400.62 L418.0,400.59 L419.0,400.57 L420.0,400.54 L421.0,400.51 L422.0,400.49 L423.0,400.46 L424.0,400.44 L425.0,400.41 L426.0,400.39 L427.0,400.37 L428.0,400.34 L429.0,400.32 L430.0,400.30 L431.0,400.28 L432.0,400.26 L433.0,400.24 L434.0,400.22 L435.0,400.20 L436.0,400.18 L437.0,400.16 L438.0,400.15 L439.0,400.13 L440.0,400.12 L441.0,400.11 L442.0,400.10 L443.0,400.09 L444.0,400.08 L445.0,400.07 L446.0,400.06 L447.0,400.06 L448.0,400.05 L449.0,400.05 L450.0,400.05 L451.0,400.05 L452.0,400.05 L453.0,400.06 L454.0,400.06 L455.0,400.07 L456.0,400.07 L457.0,400.08 L458.0,400.09 L459.0,400.10 L460.0,400.11 L461.0,400.13 L462.0,400.14 L463.0,400.16 L464.0,400.17 L465.0,400.19 L466.0,400.21 L467.0,400.23 L468.0,400.25 L469.0,400.27 L470.0,400.29 L471.0,400.31 L472.0,400.34 L473.0,400.36 L474.0,400.39 L475.0,400.41 L476.0,400.44 L477.0,400.47 L478.0,400.50 L479.0,400.53 L480.0,400.56 L481.0,400.59 L482.0,400.62 L483.0,400.65 L484.0,400.69 L485.0,400.72 L486.0,400.76 L487.0,400.79 L488.0,400.83 L489.0,400.86 L490.0,400.90 L491.0,400.94 L492.0,400.98 L493.0,401.02 L494.0,401.05 L495.0,401.09 L496.0,401.13 L497.0,401.18 L498.0,401.22 L499.0,401.26 L500.0,401.30 L501.0,401.34 L502.0,401.39 L503.0,401.45 L504.0,401.50 L505.0,401.56 L506.0,401.63 L507.0,401.70 L508.0,401.77 L509.0,401.85 L510.0,401.93 L511.0,402.01 L512.0,402.10 L513.0,402.18 L514.0,402.28 L515.0,402.37 L516.0,402.47 L517.0,402.57 L518.0,402.67 L519.0,402.77 L520.0,402.88 L521.0,402.99 L522.0,403.10 L523.0,403.21 L524.0,403.32 L525.0,403.43 L526.0,403.55 L527.0,403.67 L528.0,403.78 L529.0,403.90 L530.0,404.02 L531.0,404.14 L532.0,404.26 L533.0,404.38 L534.0,404.50 L535.0,404.62 L536.0,404.74 L537.0,404.86 L538.0,404.98 L539.0,405.10 L540.0,405.22 L541.0,405.34 L542.0,405.45 L543.0,405.57 L544.0,405.68 L545.0,405.80 L546.0,405.91 L547.0,406.02 L548.0,406.13 L549.0,406.24 L550.0,406.34 L551.0,406.44 L552.0,406.55 L553.0,406.65 L554.0,406.75 L555.0,406.86 L556.0,406.96 L557.0,407.06 L558.0,407.16 L559.0,407.26 L560.0,407.36 L561.0,407.47 L562.0,407.57 L563.0,407.67 L564.0,407.77 L565.0,407.87 L566.0,407.97 L567.0,408.07 L568.0,408.18 L569.0,408.28 L570.0,408.38 L571.0,408.48 L572.0,408.58 L573.0,408.69 L574.0,408.79 L575.0,408.89 L576.0,409.00 L577.0,409.10 L578.0,409.21 L579.0,409.31 L580.0,409.42 L581.0,409.53 L582.0,409.63 L583.0,409.74 L584.0,409.85 L585.0,409.96 L586.0,410.07 L587.0,410.18 L588.0,410.29 L589.0,410.40 L590.0,410.52 L591.0,410.63 L592.0,410.75 L593.0,410.86 L594.0,410.98 L595.0,411.10 L596.0,411.22 L597.0,411.34 L598.0,411.46 L599.0,411.58 L600.0,411.70 L601.0,411.83 L602.0,411.96 L603.0,412.09 L604.0,412.23 L605.0,412.37 L606.0,412.51 L607.0,412.65 L608.0,412.80 L609.0,412.94 L610.0,413.09 L611.0,413.24 L612.0,413.38 L613.0,413.53 L614.0,413.68 L615.0,413.83 L616.0,413.97 L617.0,414.12 L618.0,414.26 L619.0,414.40 L620.0,414.54 L621.0,414.68 L622.0,414.82 L623.0,414.96 L624.0,415.10 L625.0,415.24 L626.0,415.38 L627.0,415.52 L628.0,415.67 L629.0,415.81 L630.0,415.95 L631.0,416.10 L632.0,416.24 L633.0,416.38 L634.0,416.53 L635.0,416.67 L636.0,416.81 L637.0,416.96 L638.0,417.10 L639.0,417.24 L640.0,417.38 L641.0,417.52 L642.0,417.66 L643.0,417.79 L644.0,417.93 L645.0,418.06 L646.0,418.20 L647.0,418.33 L648.0,418.46 L649.0,418.59 L650.0,418.72 L651.0,418.84 L652.0,418.97 L653.0,419.09 L654.0,419.21 L655.0,419.33 L656.0,419.44 L657.0,419.56 L658.0,419.67 L659.0,419.77 L660.0,419.88 L661.0,419.98 L662.0,420.09 L663.0,420.19 L664.0,420.29 L665.0,420.39 L666.0,420.49 L667.0,420.59 L668.0,420.69 L669.0,420.78 L670.0,420.88 L671.0,420.97 L672.0,421.07 L673.0,421.16 L674.0,421.25 L675.0,421.34 L676.0,421.43 L677.0,421.52 L678.0,421.61 L679.0,421.69 L680.0,421.78 L681.0,421.87 L682.0,421.95 L683.0,422.03 L684.0,422.12 L685.0,422.20 L686.0,422.28 L687.0,422.36 L688.0,422.44 L689.0,422.51 L690.0,422.59 L691.0,422.67 L692.0,422.74 L693.0,422.82 L694.0,422.89 L695.0,422.96 L696.0,423.03 L697.0,423.10 L698.0,423.17 L699.0,423.24 L700.0,423.31 L701.0,423.38 L702.0,423.44 L703.0,423.51 L704.0,423.57 L705.0,423.64 L706.0,423.70 L707.0,423.77 L708.0,423.83 L709.0,423.89 L710.0,423.95 L711.0,424.01 L712.0,424.07 L713.0,424.13 L714.0,424.19 L715.0,424.25 L716.0,424.31 L717.0,424.37 L718.0,424.42 L719.0,424.48 L720.0,424.53 L721.0,424.59 L722.0,424.64 L723.0,424.69 L724.0,424.74 L725.0,424.79 L726.0,424.84 L727.0,424.89 L728.0,424.94 L729.0,424.98 L730.0,425.03 L731.0,425.08 L732.0,425.12" fill="none" stroke="#9a9a9a" stroke-width="1.6" stroke-linejoin="round"/>
<path d="M95.0,98.00 L96.0,113.03 L97.0,129.30 L98.0,146.54 L99.0,164.47 L100.0,177.81 L101.0,188.11 L102.0,196.80 L103.0,204.39 L104.0,211.11 L105.0,217.40 L106.0,223.38 L107.0,229.02 L108.0,234.53 L109.0,240.13 L110.0,245.65 L111.0,250.63 L112.0,254.78 L113.0,258.54 L114.0,261.93 L115.0,264.92 L116.0,267.47 L117.0,269.68 L118.0,271.69 L119.0,273.53 L120.0,275.17 L121.0,276.60 L122.0,277.86 L123.0,279.01 L124.0,280.02 L125.0,280.83 L126.0,281.35 L127.0,281.70 L128.0,282.01 L129.0,282.30 L130.0,282.55 L131.0,282.75 L132.0,282.89 L133.0,282.83 L134.0,282.53 L135.0,282.00 L136.0,281.29 L137.0,280.45 L138.0,279.53 L139.0,278.58 L140.0,277.49 L141.0,276.16 L142.0,274.63 L143.0,272.92 L144.0,271.09 L145.0,269.15 L146.0,267.17 L147.0,265.10 L148.0,262.88 L149.0,260.45 L150.0,257.76 L151.0,254.76 L152.0,251.31 L153.0,247.16 L154.0,242.51 L155.0,237.56 L156.0,232.53 L157.0,227.61 L158.0,222.76 L159.0,217.82 L160.0,212.77 L161.0,207.56 L162.0,202.21 L163.0,196.77 L164.0,191.29 L165.0,185.73 L166.0,180.02 L167.0,174.22 L168.0,168.39 L169.0,162.58 L170.0,156.86 L171.0,151.17 L172.0,145.51 L173.0,139.95 L174.0,134.57 L175.0,129.49 L176.0,124.66 L177.0,120.05 L178.0,115.79 L179.0,112.00 L180.0,108.58 L181.0,105.39 L182.0,102.49 L183.0,99.97 L184.0,97.85 L185.0,95.96 L186.0,94.28 L187.0,92.81 L188.0,91.52 L189.0,90.35 L190.0,89.30 L191.0,88.45 L192.0,87.84 L193.0,87.40 L194.0,87.03 L195.0,86.77 L196.0,86.59 L197.0,86.71 L198.0,87.29 L199.0,88.18 L200.0,89.39 L201.0,91.47 L202.0,94.10 L203.0,96.95 L204.0,97.38 L205.0,99.02 L206.0,101.48 L207.0,104.42 L208.0,107.53 L209.0,112.28 L210.0,117.05 L211.0,122.01 L212.0,127.12 L213.0,132.29 L214.0,137.48 L215.0,142.56 L216.0,147.52 L217.0,152.64 L218.0,158.20 L219.0,164.56 L220.0,171.76 L221.0,179.26 L222.0,186.81 L223.0,194.58 L224.0,202.34 L225.0,210.49 L226.0,218.64 L227.0,226.11 L228.0,232.34 L229.0,237.75 L230.0,242.65 L231.0,246.30 L232.0,249.89 L233.0,253.51 L234.0,257.23 L235.0,261.06 L236.0,264.93 L237.0,268.77 L238.0,272.53 L239.0,277.06 L240.0,281.50 L241.0,285.82 L242.0,290.02 L243.0,294.08 L244.0,298.01 L245.0,301.86 L246.0,305.59 L247.0,309.21 L248.0,312.70 L249.0,316.06 L250.0,319.29 L251.0,322.40 L252.0,325.42 L253.0,328.31 L254.0,331.07 L255.0,333.65 L256.0,336.06 L257.0,338.30 L258.0,340.42 L259.0,342.46 L260.0,344.48 L261.0,346.56 L262.0,348.75 L263.0,351.06 L264.0,353.44 L265.0,355.81 L266.0,358.11 L267.0,360.31 L268.0,362.34 L269.0,364.21 L270.0,365.96 L271.0,367.63 L272.0,369.25 L273.0,370.81 L274.0,372.33 L275.0,373.81 L276.0,375.25 L277.0,376.63 L278.0,377.95 L279.0,379.21 L280.0,380.41 L281.0,381.53 L282.0,382.59 L283.0,383.62 L284.0,384.63 L285.0,385.60 L286.0,386.52 L287.0,387.41 L288.0,388.24 L289.0,389.01 L290.0,389.71 L291.0,390.38 L292.0,391.02 L293.0,391.63 L294.0,392.22 L295.0,392.78 L296.0,393.30 L297.0,393.78 L298.0,394.22 L299.0,394.62 L300.0,394.96 L301.0,395.27 L302.0,395.56 L303.0,395.83 L304.0,396.09 L305.0,396.33 L306.0,396.56 L307.0,396.77 L308.0,396.97 L309.0,397.16 L310.0,397.33 L311.0,397.49 L312.0,397.64 L313.0,397.77 L314.0,397.91 L315.0,398.04 L316.0,398.16 L317.0,398.28 L318.0,398.39 L319.0,398.49 L320.0,398.59 L321.0,398.68 L322.0,398.76 L323.0,398.84 L324.0,398.90 L325.0,398.96 L326.0,399.01 L327.0,399.06 L328.0,399.11 L329.0,399.16 L330.0,399.21 L331.0,399.25 L332.0,399.30 L333.0,399.34 L334.0,399.38 L335.0,399.42 L336.0,399.46 L337.0,399.49 L338.0,399.53 L339.0,399.56 L340.0,399.59 L341.0,399.62 L342.0,399.64 L343.0,399.67 L344.0,399.69 L345.0,399.71 L346.0,399.72 L347.0,399.73 L348.0,399.74 L349.0,399.75 L350.0,399.76 L351.0,399.76 L352.0,399.76 L353.0,399.75 L354.0,399.75 L355.0,399.74 L356.0,399.73 L357.0,399.72 L358.0,399.71 L359.0,399.70 L360.0,399.68 L361.0,399.67 L362.0,399.65 L363.0,399.63 L364.0,399.61 L365.0,399.58 L366.0,399.56 L367.0,399.54 L368.0,399.51 L369.0,399.48 L370.0,399.46 L371.0,399.43 L372.0,399.40 L373.0,399.37 L374.0,399.34 L375.0,399.31 L376.0,399.28 L377.0,399.24 L378.0,399.21 L379.0,399.18 L380.0,399.14 L381.0,399.11 L382.0,399.08 L383.0,399.04 L384.0,399.01 L385.0,398.98 L386.0,398.94 L387.0,398.91 L388.0,398.87 L389.0,398.84 L390.0,398.81 L391.0,398.78 L392.0,398.75 L393.0,398.71 L394.0,398.68 L395.0,398.66 L396.0,398.63 L397.0,398.60 L398.0,398.57 L399.0,398.55 L400.0,398.52 L401.0,398.50 L402.0,398.47 L403.0,398.44 L404.0,398.42 L405.0,398.39 L406.0,398.36 L407.0,398.33 L408.0,398.30 L409.0,398.27 L410.0,398.24 L411.0,398.21 L412.0,398.18 L413.0,398.15 L414.0,398.12 L415.0,398.09 L416.0,398.06 L417.0,398.03 L418.0,398.00 L419.0,397.97 L420.0,397.94 L421.0,397.91 L422.0,397.88 L423.0,397.85 L424.0,397.82 L425.0,397.79 L426.0,397.77 L427.0,397.74 L428.0,397.71 L429.0,397.69 L430.0,397.66 L431.0,397.64 L432.0,397.61 L433.0,397.59 L434.0,397.57 L435.0,397.55 L436.0,397.53 L437.0,397.51 L438.0,397.49 L439.0,397.47 L440.0,397.46 L441.0,397.44 L442.0,397.43 L443.0,397.42 L444.0,397.41 L445.0,397.40 L446.0,397.39 L447.0,397.38 L448.0,397.38 L449.0,397.38 L450.0,397.38 L451.0,397.38 L452.0,397.38 L453.0,397.38 L454.0,397.39 L455.0,397.40 L456.0,397.41 L457.0,397.42 L458.0,397.43 L459.0,397.44 L460.0,397.46 L461.0,397.47 L462.0,397.49 L463.0,397.51 L464.0,397.53 L465.0,397.55 L466.0,397.57 L467.0,397.60 L468.0,397.62 L469.0,397.65 L470.0,397.68 L471.0,397.71 L472.0,397.74 L473.0,397.77 L474.0,397.80 L475.0,397.83 L476.0,397.87 L477.0,397.90 L478.0,397.94 L479.0,397.98 L480.0,398.01 L481.0,398.05 L482.0,398.09 L483.0,398.13 L484.0,398.17 L485.0,398.21 L486.0,398.25 L487.0,398.30 L488.0,398.34 L489.0,398.38 L490.0,398.43 L491.0,398.47 L492.0,398.52 L493.0,398.57 L494.0,398.61 L495.0,398.66 L496.0,398.71 L497.0,398.76 L498.0,398.80 L499.0,398.85 L500.0,398.90 L501.0,398.95 L502.0,399.01 L503.0,399.07 L504.0,399.13 L505.0,399.20 L506.0,399.27 L507.0,399.35 L508.0,399.43 L509.0,399.52 L510.0,399.60 L511.0,399.69 L512.0,399.79 L513.0,399.89 L514.0,399.99 L515.0,400.09 L516.0,400.20 L517.0,400.31 L518.0,400.42 L519.0,400.53 L520.0,400.64 L521.0,400.76 L522.0,400.88 L523.0,401.00 L524.0,401.13 L525.0,401.25 L526.0,401.38 L527.0,401.50 L528.0,401.63 L529.0,401.76 L530.0,401.89 L531.0,402.02 L532.0,402.15 L533.0,402.28 L534.0,402.41 L535.0,402.54 L536.0,402.67 L537.0,402.80 L538.0,402.93 L539.0,403.06 L540.0,403.19 L541.0,403.32 L542.0,403.45 L543.0,403.57 L544.0,403.70 L545.0,403.82 L546.0,403.95 L547.0,404.07 L548.0,404.19 L549.0,404.30 L550.0,404.42 L551.0,404.53 L552.0,404.65 L553.0,404.76 L554.0,404.87 L555.0,404.99 L556.0,405.10 L557.0,405.21 L558.0,405.32 L559.0,405.44 L560.0,405.55 L561.0,405.66 L562.0,405.77 L563.0,405.88 L564.0,405.99 L565.0,406.11 L566.0,406.22 L567.0,406.33 L568.0,406.44 L569.0,406.55 L570.0,406.67 L571.0,406.78 L572.0,406.89 L573.0,407.01 L574.0,407.12 L575.0,407.24 L576.0,407.35 L577.0,407.47 L578.0,407.58 L579.0,407.70 L580.0,407.82 L581.0,407.93 L582.0,408.05 L583.0,408.17 L584.0,408.29 L585.0,408.41 L586.0,408.54 L587.0,408.66 L588.0,408.78 L589.0,408.91 L590.0,409.03 L591.0,409.16 L592.0,409.29 L593.0,409.42 L594.0,409.55 L595.0,409.68 L596.0,409.81 L597.0,409.94 L598.0,410.08 L599.0,410.21 L600.0,410.35 L601.0,410.49 L602.0,410.64 L603.0,410.79 L604.0,410.94 L605.0,411.09 L606.0,411.25 L607.0,411.41 L608.0,411.57 L609.0,411.73 L610.0,411.90 L611.0,412.06 L612.0,412.23 L613.0,412.39 L614.0,412.56 L615.0,412.72 L616.0,412.89 L617.0,413.05 L618.0,413.21 L619.0,413.37 L620.0,413.52 L621.0,413.67 L622.0,413.83 L623.0,413.99 L624.0,414.14 L625.0,414.30 L626.0,414.46 L627.0,414.62 L628.0,414.78 L629.0,414.94 L630.0,415.09 L631.0,415.25 L632.0,415.41 L633.0,415.57 L634.0,415.73 L635.0,415.89 L636.0,416.05 L637.0,416.21 L638.0,416.37 L639.0,416.52 L640.0,416.68 L641.0,416.83 L642.0,416.99 L643.0,417.14 L644.0,417.29 L645.0,417.44 L646.0,417.59 L647.0,417.73 L648.0,417.88 L649.0,418.02 L650.0,418.16 L651.0,418.30 L652.0,418.44 L653.0,418.57 L654.0,418.70 L655.0,418.83 L656.0,418.96 L657.0,419.08 L658.0,419.21 L659.0,419.32 L660.0,419.44 L661.0,419.55 L662.0,419.67 L663.0,419.78 L664.0,419.89 L665.0,420.00 L666.0,420.11 L667.0,420.21 L668.0,420.32 L669.0,420.42 L670.0,420.53 L671.0,420.63 L672.0,420.73 L673.0,420.83 L674.0,420.93 L675.0,421.03 L676.0,421.13 L677.0,421.23 L678.0,421.32 L679.0,421.42 L680.0,421.51 L681.0,421.60 L682.0,421.69 L683.0,421.78 L684.0,421.87 L685.0,421.96 L686.0,422.05 L687.0,422.13 L688.0,422.22 L689.0,422.30 L690.0,422.38 L691.0,422.47 L692.0,422.55 L693.0,422.63 L694.0,422.71 L695.0,422.78 L696.0,422.86 L697.0,422.93 L698.0,423.01 L699.0,423.08 L700.0,423.15 L701.0,423.23 L702.0,423.30 L703.0,423.37 L704.0,423.44 L705.0,423.51 L706.0,423.57 L707.0,423.64 L708.0,423.71 L709.0,423.77 L710.0,423.84 L711.0,423.90 L712.0,423.97 L713.0,424.03 L714.0,424.09 L715.0,424.15 L716.0,424.22 L717.0,424.28 L718.0,424.33 L719.0,424.39 L720.0,424.45 L721.0,424.51 L722.0,424.56 L723.0,424.62 L724.0,424.67 L725.0,424.72 L726.0,424.77 L727.0,424.82 L728.0,424.87 L729.0,424.92 L730.0,424.97 L731.0,425.01 L732.0,425.06" fill="none" stroke="#8c8c8c" stroke-width="1.6" stroke-linejoin="round"/>
<path d="M95.0,95.00 L96.0,110.00 L97.0,126.48 L98.0,144.06 L99.0,162.51 L100.0,176.07 L101.0,186.39 L102.0,195.00 L103.0,202.40 L104.0,208.88 L105.0,215.00 L106.0,220.93 L107.0,226.55 L108.0,232.00 L109.0,237.52 L110.0,242.98 L111.0,247.89 L112.0,251.92 L113.0,255.53 L114.0,258.78 L115.0,261.62 L116.0,264.00 L117.0,266.02 L118.0,267.83 L119.0,269.44 L120.0,270.83 L121.0,272.00 L122.0,273.06 L123.0,274.07 L124.0,274.95 L125.0,275.62 L126.0,276.00 L127.0,276.20 L128.0,276.37 L129.0,276.51 L130.0,276.62 L131.0,276.68 L132.0,276.70 L133.0,276.53 L134.0,276.13 L135.0,275.52 L136.0,274.76 L137.0,273.90 L138.0,272.96 L139.0,272.00 L140.0,270.89 L141.0,269.50 L142.0,267.88 L143.0,266.08 L144.0,264.13 L145.0,262.09 L146.0,260.00 L147.0,257.83 L148.0,255.50 L149.0,252.96 L150.0,250.14 L151.0,247.01 L152.0,243.38 L153.0,238.97 L154.0,233.99 L155.0,228.67 L156.0,223.27 L157.0,218.00 L158.0,212.85 L159.0,207.62 L160.0,202.33 L161.0,196.97 L162.0,191.56 L163.0,186.08 L164.0,180.56 L165.0,174.91 L166.0,169.11 L167.0,163.22 L168.0,157.35 L169.0,151.58 L170.0,146.00 L171.0,140.52 L172.0,135.08 L173.0,129.77 L174.0,124.71 L175.0,120.00 L176.0,115.55 L177.0,111.29 L178.0,107.39 L179.0,104.00 L180.0,100.99 L181.0,98.21 L182.0,95.75 L183.0,93.69 L184.0,92.06 L185.0,90.64 L186.0,89.41 L187.0,88.36 L188.0,87.50 L189.0,86.74 L190.0,86.05 L191.0,85.51 L192.0,85.20 L193.0,85.04 L194.0,84.91 L195.0,84.83 L196.0,84.80 L197.0,85.09 L198.0,85.85 L199.0,86.91 L200.0,88.26 L201.0,90.58 L202.0,93.50 L203.0,96.58 L204.0,97.24 L205.0,99.02 L206.0,101.53 L207.0,104.45 L208.0,107.53 L209.0,112.28 L210.0,117.05 L211.0,122.01 L212.0,127.12 L213.0,132.29 L214.0,137.48 L215.0,142.56 L216.0,147.52 L217.0,152.64 L218.0,158.20 L219.0,164.56 L220.0,171.76 L221.0,179.26 L222.0,186.81 L223.0,194.58 L224.0,202.34 L225.0,210.49 L226.0,218.64 L227.0,226.11 L228.0,232.34 L229.0,237.75 L230.0,242.65 L231.0,246.26 L232.0,249.79 L233.0,253.33 L234.0,256.96 L235.0,260.67 L236.0,264.41 L237.0,268.10 L238.0,271.71 L239.0,276.18 L240.0,280.56 L241.0,284.84 L242.0,289.00 L243.0,293.00 L244.0,296.88 L245.0,300.67 L246.0,304.37 L247.0,307.96 L248.0,311.43 L249.0,314.78 L250.0,318.00 L251.0,321.11 L252.0,324.14 L253.0,327.05 L254.0,329.85 L255.0,332.50 L256.0,335.00 L257.0,337.33 L258.0,339.51 L259.0,341.59 L260.0,343.59 L261.0,345.57 L262.0,347.55 L263.0,349.59 L264.0,351.70 L265.0,353.88 L266.0,356.04 L267.0,358.10 L268.0,360.00 L269.0,361.73 L270.0,363.36 L271.0,364.92 L272.0,366.42 L273.0,367.87 L274.0,369.29 L275.0,370.71 L276.0,372.11 L277.0,373.49 L278.0,374.83 L279.0,376.12 L280.0,377.35 L281.0,378.50 L282.0,379.60 L283.0,380.67 L284.0,381.71 L285.0,382.72 L286.0,383.69 L287.0,384.60 L288.0,385.46 L289.0,386.27 L290.0,387.00 L291.0,387.69 L292.0,388.36 L293.0,389.01 L294.0,389.62 L295.0,390.21 L296.0,390.76 L297.0,391.26 L298.0,391.73 L299.0,392.14 L300.0,392.50 L301.0,392.82 L302.0,393.13 L303.0,393.41 L304.0,393.68 L305.0,393.94 L306.0,394.18 L307.0,394.40 L308.0,394.61 L309.0,394.80 L310.0,394.98 L311.0,395.15 L312.0,395.30 L313.0,395.45 L314.0,395.59 L315.0,395.72 L316.0,395.86 L317.0,395.98 L318.0,396.10 L319.0,396.21 L320.0,396.31 L321.0,396.41 L322.0,396.50 L323.0,396.57 L324.0,396.64 L325.0,396.70 L326.0,396.75 L327.0,396.80 L328.0,396.85 L329.0,396.90 L330.0,396.95 L331.0,397.00 L332.0,397.04 L333.0,397.09 L334.0,397.13 L335.0,397.17 L336.0,397.21 L337.0,397.25 L338.0,397.28 L339.0,397.31 L340.0,397.34 L341.0,397.37 L342.0,397.40 L343.0,397.42 L344.0,397.44 L345.0,397.46 L346.0,397.47 L347.0,397.48 L348.0,397.49 L349.0,397.50 L350.0,397.50 L351.0,397.50 L352.0,397.50 L353.0,397.49 L354.0,397.48 L355.0,397.47 L356.0,397.46 L357.0,397.44 L358.0,397.43 L359.0,397.41 L360.0,397.39 L361.0,397.37 L362.0,397.34 L363.0,397.32 L364.0,397.29 L365.0,397.26 L366.0,397.23 L367.0,397.20 L368.0,397.17 L369.0,397.14 L370.0,397.11 L371.0,397.07 L372.0,397.04 L373.0,397.00 L374.0,396.96 L375.0,396.92 L376.0,396.89 L377.0,396.85 L378.0,396.81 L379.0,396.77 L380.0,396.73 L381.0,396.69 L382.0,396.65 L383.0,396.61 L384.0,396.57 L385.0,396.53 L386.0,396.49 L387.0,396.45 L388.0,396.41 L389.0,396.37 L390.0,396.33 L391.0,396.30 L392.0,396.26 L393.0,396.22 L394.0,396.19 L395.0,396.15 L396.0,396.12 L397.0,396.09 L398.0,396.06 L399.0,396.03 L400.0,396.00 L401.0,395.97 L402.0,395.94 L403.0,395.91 L404.0,395.88 L405.0,395.85 L406.0,395.82 L407.0,395.79 L408.0,395.75 L409.0,395.72 L410.0,395.69 L411.0,395.65 L412.0,395.62 L413.0,395.58 L414.0,395.55 L415.0,395.51 L416.0,395.48 L417.0,395.45 L418.0,395.41 L419.0,395.38 L420.0,395.34 L421.0,395.31 L422.0,395.27 L423.0,395.24 L424.0,395.21 L425.0,395.18 L426.0,395.14 L427.0,395.11 L428.0,395.08 L429.0,395.05 L430.0,395.02 L431.0,395.00 L432.0,394.97 L433.0,394.94 L434.0,394.92 L435.0,394.89 L436.0,394.87 L437.0,394.85 L438.0,394.83 L439.0,394.81 L440.0,394.79 L441.0,394.77 L442.0,394.76 L443.0,394.75 L444.0,394.73 L445.0,394.72 L446.0,394.72 L447.0,394.71 L448.0,394.70 L449.0,394.70 L450.0,394.70 L451.0,394.70 L452.0,394.70 L453.0,394.71 L454.0,394.72 L455.0,394.73 L456.0,394.74 L457.0,394.75 L458.0,394.76 L459.0,394.78 L460.0,394.80 L461.0,394.82 L462.0,394.84 L463.0,394.86 L464.0,394.89 L465.0,394.91 L466.0,394.94 L467.0,394.97 L468.0,395.00 L469.0,395.03 L470.0,395.07 L471.0,395.10 L472.0,395.14 L473.0,395.18 L474.0,395.21 L475.0,395.25 L476.0,395.29 L477.0,395.34 L478.0,395.38 L479.0,395.42 L480.0,395.47 L481.0,395.51 L482.0,395.56 L483.0,395.61 L484.0,395.66 L485.0,395.70 L486.0,395.75 L487.0,395.80 L488.0,395.85 L489.0,395.91 L490.0,395.96 L491.0,396.01 L492.0,396.06 L493.0,396.12 L494.0,396.17 L495.0,396.23 L496.0,396.28 L497.0,396.33 L498.0,396.39 L499.0,396.44 L500.0,396.50 L501.0,396.56 L502.0,396.62 L503.0,396.69 L504.0,396.76 L505.0,396.84 L506.0,396.92 L507.0,397.00 L508.0,397.09 L509.0,397.18 L510.0,397.28 L511.0,397.38 L512.0,397.48 L513.0,397.59 L514.0,397.70 L515.0,397.81 L516.0,397.93 L517.0,398.04 L518.0,398.16 L519.0,398.29 L520.0,398.41 L521.0,398.54 L522.0,398.67 L523.0,398.80 L524.0,398.93 L525.0,399.07 L526.0,399.20 L527.0,399.34 L528.0,399.48 L529.0,399.62 L530.0,399.76 L531.0,399.90 L532.0,400.04 L533.0,400.18 L534.0,400.32 L535.0,400.46 L536.0,400.60 L537.0,400.74 L538.0,400.89 L539.0,401.03 L540.0,401.17 L541.0,401.31 L542.0,401.44 L543.0,401.58 L544.0,401.72 L545.0,401.85 L546.0,401.98 L547.0,402.12 L548.0,402.25 L549.0,402.37 L550.0,402.50 L551.0,402.62 L552.0,402.75 L553.0,402.87 L554.0,403.00 L555.0,403.12 L556.0,403.24 L557.0,403.36 L558.0,403.49 L559.0,403.61 L560.0,403.73 L561.0,403.85 L562.0,403.97 L563.0,404.10 L564.0,404.22 L565.0,404.34 L566.0,404.46 L567.0,404.59 L568.0,404.71 L569.0,404.83 L570.0,404.96 L571.0,405.08 L572.0,405.20 L573.0,405.33 L574.0,405.45 L575.0,405.58 L576.0,405.70 L577.0,405.83 L578.0,405.96 L579.0,406.09 L580.0,406.21 L581.0,406.34 L582.0,406.47 L583.0,406.60 L584.0,406.74 L585.0,406.87 L586.0,407.00 L587.0,407.14 L588.0,407.27 L589.0,407.41 L590.0,407.55 L591.0,407.69 L592.0,407.83 L593.0,407.97 L594.0,408.11 L595.0,408.26 L596.0,408.40 L597.0,408.55 L598.0,408.70 L599.0,408.85 L600.0,409.00 L601.0,409.15 L602.0,409.31 L603.0,409.48 L604.0,409.65 L605.0,409.82 L606.0,409.99 L607.0,410.17 L608.0,410.35 L609.0,410.53 L610.0,410.71 L611.0,410.89 L612.0,411.07 L613.0,411.26 L614.0,411.44 L615.0,411.62 L616.0,411.80 L617.0,411.98 L618.0,412.16 L619.0,412.33 L620.0,412.50 L621.0,412.67 L622.0,412.84 L623.0,413.01 L624.0,413.19 L625.0,413.36 L626.0,413.53 L627.0,413.71 L628.0,413.88 L629.0,414.06 L630.0,414.24 L631.0,414.41 L632.0,414.59 L633.0,414.76 L634.0,414.94 L635.0,415.11 L636.0,415.29 L637.0,415.46 L638.0,415.63 L639.0,415.81 L640.0,415.98 L641.0,416.15 L642.0,416.32 L643.0,416.48 L644.0,416.65 L645.0,416.81 L646.0,416.98 L647.0,417.14 L648.0,417.29 L649.0,417.45 L650.0,417.61 L651.0,417.76 L652.0,417.91 L653.0,418.05 L654.0,418.20 L655.0,418.34 L656.0,418.48 L657.0,418.61 L658.0,418.75 L659.0,418.87 L660.0,419.00 L661.0,419.12 L662.0,419.25 L663.0,419.37 L664.0,419.49 L665.0,419.60 L666.0,419.72 L667.0,419.84 L668.0,419.95 L669.0,420.07 L670.0,420.18 L671.0,420.29 L672.0,420.40 L673.0,420.51 L674.0,420.62 L675.0,420.72 L676.0,420.83 L677.0,420.93 L678.0,421.04 L679.0,421.14 L680.0,421.24 L681.0,421.34 L682.0,421.44 L683.0,421.53 L684.0,421.63 L685.0,421.72 L686.0,421.82 L687.0,421.91 L688.0,422.00 L689.0,422.09 L690.0,422.18 L691.0,422.27 L692.0,422.35 L693.0,422.44 L694.0,422.52 L695.0,422.60 L696.0,422.69 L697.0,422.77 L698.0,422.85 L699.0,422.92 L700.0,423.00 L701.0,423.08 L702.0,423.15 L703.0,423.23 L704.0,423.30 L705.0,423.37 L706.0,423.44 L707.0,423.52 L708.0,423.59 L709.0,423.66 L710.0,423.73 L711.0,423.79 L712.0,423.86 L713.0,423.93 L714.0,423.99 L715.0,424.06 L716.0,424.12 L717.0,424.18 L718.0,424.25 L719.0,424.31 L720.0,424.37 L721.0,424.43 L722.0,424.48 L723.0,424.54 L724.0,424.60 L725.0,424.65 L726.0,424.70 L727.0,424.76 L728.0,424.81 L729.0,424.86 L730.0,424.91 L731.0,424.95 L732.0,425.00" fill="none" stroke="#828282" stroke-width="1.6" stroke-linejoin="round"/>
<path d="M95.0,138.00 L96.0,149.38 L97.0,160.00 L98.0,170.04 L99.0,179.54 L100.0,188.00 L101.0,195.33 L102.0,201.92 L103.0,208.00 L104.0,213.76 L105.0,219.22 L106.0,224.33 L107.0,229.09 L108.0,233.58 L109.0,237.89 L110.0,241.78 L111.0,245.00 L112.0,247.66 L113.0,250.05 L114.0,252.15 L115.0,253.94 L116.0,255.42 L117.0,256.76 L118.0,257.96 L119.0,258.90 L120.0,259.50 L121.0,259.87 L122.0,260.19 L123.0,260.46 L124.0,260.66 L125.0,260.78 L126.0,260.79 L127.0,260.56 L128.0,260.10 L129.0,259.48 L130.0,258.76 L131.0,258.00 L132.0,257.12 L133.0,256.00 L134.0,254.69 L135.0,253.23 L136.0,251.65 L137.0,250.00 L138.0,248.24 L139.0,246.29 L140.0,244.13 L141.0,241.75 L142.0,239.12 L143.0,236.14 L144.0,232.50 L145.0,228.42 L146.0,224.17 L147.0,220.00 L148.0,216.00 L149.0,212.00 L150.0,207.91 L151.0,203.63 L152.0,199.05 L153.0,194.03 L154.0,188.67 L155.0,183.15 L156.0,177.67 L157.0,172.38 L158.0,167.17 L159.0,161.98 L160.0,156.79 L161.0,151.58 L162.0,146.30 L163.0,141.00 L164.0,135.67 L165.0,130.33 L166.0,125.00 L167.0,119.61 L168.0,114.15 L169.0,108.74 L170.0,103.50 L171.0,98.55 L172.0,93.89 L173.0,89.41 L174.0,85.00 L175.0,80.51 L176.0,76.06 L177.0,71.89 L178.0,68.23 L179.0,64.91 L180.0,61.86 L181.0,59.00 L182.0,56.26 L183.0,53.71 L184.0,51.50 L185.0,49.57 L186.0,47.82 L187.0,46.37 L188.0,45.27 L189.0,44.26 L190.0,43.60 L191.0,43.56 L192.0,43.96 L193.0,44.62 L194.0,45.49 L195.0,47.00 L196.0,48.95 L197.0,51.12 L198.0,53.75 L199.0,56.88 L200.0,60.58 L201.0,65.30 L202.0,70.73 L203.0,76.35 L204.0,81.94 L205.0,87.87 L206.0,93.82 L207.0,99.47 L208.0,104.60 L209.0,109.44 L210.0,114.17 L211.0,119.00 L212.0,124.04 L213.0,129.18 L214.0,134.36 L215.0,139.54 L216.0,144.54 L217.0,149.53 L218.0,154.80 L219.0,160.62 L220.0,167.37 L221.0,174.76 L222.0,182.24 L223.0,189.91 L224.0,197.68 L225.0,205.56 L226.0,213.79 L227.0,221.75 L228.0,228.77 L229.0,234.57 L230.0,239.76 L231.0,244.50 L232.0,248.97 L233.0,253.33 L234.0,257.73 L235.0,262.32 L236.0,267.01 L237.0,271.75 L238.0,276.47 L239.0,281.13 L240.0,285.68 L241.0,290.07 L242.0,294.25 L243.0,298.16 L244.0,301.78 L245.0,305.19 L246.0,308.42 L247.0,311.50 L248.0,314.45 L249.0,317.27 L250.0,320.00 L251.0,322.62 L252.0,325.11 L253.0,327.49 L254.0,329.78 L255.0,332.00 L256.0,334.12 L257.0,336.15 L258.0,338.12 L259.0,340.06 L260.0,342.00 L261.0,343.93 L262.0,345.84 L263.0,347.73 L264.0,349.62 L265.0,351.54 L266.0,353.50 L267.0,355.46 L268.0,357.37 L269.0,359.16 L270.0,360.81 L271.0,362.38 L272.0,363.88 L273.0,365.32 L274.0,366.72 L275.0,368.06 L276.0,369.36 L277.0,370.63 L278.0,371.85 L279.0,373.04 L280.0,374.17 L281.0,375.26 L282.0,376.30 L283.0,377.30 L284.0,378.28 L285.0,379.22 L286.0,380.11 L287.0,380.94 L288.0,381.70 L289.0,382.40 L290.0,383.05 L291.0,383.67 L292.0,384.25 L293.0,384.79 L294.0,385.30 L295.0,385.78 L296.0,386.25 L297.0,386.69 L298.0,387.10 L299.0,387.47 L300.0,387.80 L301.0,388.09 L302.0,388.37 L303.0,388.63 L304.0,388.88 L305.0,389.11 L306.0,389.34 L307.0,389.55 L308.0,389.75 L309.0,389.95 L310.0,390.14 L311.0,390.32 L312.0,390.50 L313.0,390.68 L314.0,390.86 L315.0,391.04 L316.0,391.22 L317.0,391.39 L318.0,391.56 L319.0,391.72 L320.0,391.87 L321.0,392.00 L322.0,392.13 L323.0,392.24 L324.0,392.33 L325.0,392.40 L326.0,392.46 L327.0,392.52 L328.0,392.58 L329.0,392.64 L330.0,392.69 L331.0,392.74 L332.0,392.80 L333.0,392.85 L334.0,392.89 L335.0,392.94 L336.0,392.98 L337.0,393.02 L338.0,393.06 L339.0,393.10 L340.0,393.13 L341.0,393.16 L342.0,393.19 L343.0,393.21 L344.0,393.24 L345.0,393.26 L346.0,393.27 L347.0,393.28 L348.0,393.29 L349.0,393.30 L350.0,393.30 L351.0,393.30 L352.0,393.29 L353.0,393.28 L354.0,393.26 L355.0,393.24 L356.0,393.21 L357.0,393.18 L358.0,393.15 L359.0,393.11 L360.0,393.07 L361.0,393.03 L362.0,392.98 L363.0,392.94 L364.0,392.89 L365.0,392.84 L366.0,392.79 L367.0,392.73 L368.0,392.68 L369.0,392.62 L370.0,392.57 L371.0,392.51 L372.0,392.46 L373.0,392.41 L374.0,392.35 L375.0,392.30 L376.0,392.25 L377.0,392.19 L378.0,392.13 L379.0,392.07 L380.0,392.00 L381.0,391.93 L382.0,391.86 L383.0,391.79 L384.0,391.71 L385.0,391.64 L386.0,391.56 L387.0,391.48 L388.0,391.40 L389.0,391.33 L390.0,391.25 L391.0,391.17 L392.0,391.09 L393.0,391.01 L394.0,390.93 L395.0,390.86 L396.0,390.78 L397.0,390.71 L398.0,390.64 L399.0,390.57 L400.0,390.50 L401.0,390.43 L402.0,390.37 L403.0,390.30 L404.0,390.23 L405.0,390.16 L406.0,390.09 L407.0,390.02 L408.0,389.95 L409.0,389.88 L410.0,389.81 L411.0,389.74 L412.0,389.67 L413.0,389.61 L414.0,389.54 L415.0,389.48 L416.0,389.42 L417.0,389.36 L418.0,389.30 L419.0,389.25 L420.0,389.20 L421.0,389.15 L422.0,389.11 L423.0,389.07 L424.0,389.03 L425.0,389.00 L426.0,388.97 L427.0,388.94 L428.0,388.91 L429.0,388.88 L430.0,388.85 L431.0,388.82 L432.0,388.80 L433.0,388.77 L434.0,388.74 L435.0,388.72 L436.0,388.69 L437.0,388.67 L438.0,388.65 L439.0,388.62 L440.0,388.60 L441.0,388.59 L442.0,388.57 L443.0,388.55 L444.0,388.54 L445.0,388.53 L446.0,388.52 L447.0,388.51 L448.0,388.50 L449.0,388.50 L450.0,388.50 L451.0,388.50 L452.0,388.51 L453.0,388.52 L454.0,388.54 L455.0,388.55 L456.0,388.58 L457.0,388.60 L458.0,388.63 L459.0,388.66 L460.0,388.70 L461.0,388.73 L462.0,388.77 L463.0,388.82 L464.0,388.86 L465.0,388.90 L466.0,388.95 L467.0,389.00 L468.0,389.05 L469.0,389.10 L470.0,389.15 L471.0,389.20 L472.0,389.25 L473.0,389.30 L474.0,389.35 L475.0,389.40 L476.0,389.45 L477.0,389.51 L478.0,389.56 L479.0,389.63 L480.0,389.69 L481.0,389.76 L482.0,389.83 L483.0,389.90 L484.0,389.97 L485.0,390.05 L486.0,390.13 L487.0,390.21 L488.0,390.29 L489.0,390.38 L490.0,390.47 L491.0,390.55 L492.0,390.64 L493.0,390.73 L494.0,390.83 L495.0,390.92 L496.0,391.01 L497.0,391.11 L498.0,391.21 L499.0,391.30 L500.0,391.40 L501.0,391.50 L502.0,391.60 L503.0,391.71 L504.0,391.81 L505.0,391.92 L506.0,392.04 L507.0,392.15 L508.0,392.27 L509.0,392.39 L510.0,392.51 L511.0,392.63 L512.0,392.76 L513.0,392.89 L514.0,393.01 L515.0,393.14 L516.0,393.28 L517.0,393.41 L518.0,393.54 L519.0,393.68 L520.0,393.81 L521.0,393.95 L522.0,394.09 L523.0,394.22 L524.0,394.36 L525.0,394.50 L526.0,394.64 L527.0,394.78 L528.0,394.92 L529.0,395.07 L530.0,395.21 L531.0,395.36 L532.0,395.51 L533.0,395.66 L534.0,395.81 L535.0,395.96 L536.0,396.12 L537.0,396.27 L538.0,396.43 L539.0,396.59 L540.0,396.75 L541.0,396.91 L542.0,397.07 L543.0,397.23 L544.0,397.40 L545.0,397.56 L546.0,397.73 L547.0,397.89 L548.0,398.06 L549.0,398.23 L550.0,398.40 L551.0,398.57 L552.0,398.74 L553.0,398.92 L554.0,399.10 L555.0,399.28 L556.0,399.46 L557.0,399.64 L558.0,399.83 L559.0,400.01 L560.0,400.20 L561.0,400.39 L562.0,400.58 L563.0,400.77 L564.0,400.96 L565.0,401.15 L566.0,401.34 L567.0,401.53 L568.0,401.73 L569.0,401.92 L570.0,402.11 L571.0,402.30 L572.0,402.50 L573.0,402.69 L574.0,402.88 L575.0,403.07 L576.0,403.26 L577.0,403.44 L578.0,403.63 L579.0,403.82 L580.0,404.00 L581.0,404.18 L582.0,404.37 L583.0,404.55 L584.0,404.73 L585.0,404.91 L586.0,405.09 L587.0,405.27 L588.0,405.45 L589.0,405.63 L590.0,405.81 L591.0,405.99 L592.0,406.17 L593.0,406.35 L594.0,406.53 L595.0,406.71 L596.0,406.89 L597.0,407.07 L598.0,407.24 L599.0,407.42 L600.0,407.60 L601.0,407.78 L602.0,407.95 L603.0,408.13 L604.0,408.31 L605.0,408.48 L606.0,408.66 L607.0,408.83 L608.0,409.01 L609.0,409.18 L610.0,409.35 L611.0,409.53 L612.0,409.70 L613.0,409.88 L614.0,410.05 L615.0,410.23 L616.0,410.40 L617.0,410.57 L618.0,410.75 L619.0,410.92 L620.0,411.10 L621.0,411.28 L622.0,411.45 L623.0,411.63 L624.0,411.81 L625.0,411.99 L626.0,412.17 L627.0,412.35 L628.0,412.53 L629.0,412.71 L630.0,412.89 L631.0,413.07 L632.0,413.25 L633.0,413.43 L634.0,413.61 L635.0,413.78 L636.0,413.96 L637.0,414.13 L638.0,414.30 L639.0,414.47 L640.0,414.64 L641.0,414.80 L642.0,414.96 L643.0,415.12 L644.0,415.29 L645.0,415.45 L646.0,415.60 L647.0,415.76 L648.0,415.92 L649.0,416.07 L650.0,416.23 L651.0,416.38 L652.0,416.53 L653.0,416.68 L654.0,416.83 L655.0,416.98 L656.0,417.13 L657.0,417.27 L658.0,417.42 L659.0,417.56 L660.0,417.70 L661.0,417.84 L662.0,417.98 L663.0,418.12 L664.0,418.26 L665.0,418.39 L666.0,418.53 L667.0,418.67 L668.0,418.80 L669.0,418.93 L670.0,419.07 L671.0,419.20 L672.0,419.33 L673.0,419.45 L674.0,419.58 L675.0,419.70 L676.0,419.82 L677.0,419.94 L678.0,420.06 L679.0,420.18 L680.0,420.29 L681.0,420.40 L682.0,420.51 L683.0,420.62 L684.0,420.72 L685.0,420.82 L686.0,420.93 L687.0,421.03 L688.0,421.13 L689.0,421.23 L690.0,421.32 L691.0,421.42 L692.0,421.51 L693.0,421.60 L694.0,421.69 L695.0,421.78 L696.0,421.87 L697.0,421.96 L698.0,422.04 L699.0,422.12 L700.0,422.20 L701.0,422.28 L702.0,422.36 L703.0,422.43 L704.0,422.51 L705.0,422.59 L706.0,422.66 L707.0,422.74 L708.0,422.81 L709.0,422.88 L710.0,422.96 L711.0,423.03 L712.0,423.10 L713.0,423.17 L714.0,423.24 L715.0,423.31 L716.0,423.38 L717.0,423.44 L718.0,423.51 L719.0,423.57 L720.0,423.64 L721.0,423.70 L722.0,423.76 L723.0,423.82 L724.0,423.88 L725.0,423.93 L726.0,423.99 L727.0,424.05 L728.0,424.10 L729.0,424.15 L730.0,424.20 L731.0,424.25 L732.0,424.30" fill="none" stroke="#f5a457" stroke-width="2.9" stroke-linejoin="round"/>
<text x="35.60" y="442.30" font-family="Liberation Sans" font-size="24.5" fill="#222" textLength="32.76" lengthAdjust="spacingAndGlyphs" stroke="#222" stroke-width="0.45" >0.0</text>
<text x="35.60" y="382.75" font-family="Liberation Sans" font-size="24.5" fill="#222" textLength="32.76" lengthAdjust="spacingAndGlyphs" stroke="#222" stroke-width="0.45" >0.1</text>
<text x="35.60" y="323.20" font-family="Liberation Sans" font-size="24.5" fill="#222" textLength="32.76" lengthAdjust="spacingAndGlyphs" stroke="#222" stroke-width="0.45" >0.2</text>
<text x="35.60" y="263.65" font-family="Liberation Sans" font-size="24.5" fill="#222" textLength="32.76" lengthAdjust="spacingAndGlyphs" stroke="#222" stroke-width="0.45" >0.3</text>
<text x="35.60" y="204.10" font-family="Liberation Sans" font-size="24.5" fill="#222" textLength="32.76" lengthAdjust="spacingAndGlyphs" stroke="#222" stroke-width="0.45" >0.4</text>
<text x="35.60" y="144.55" font-family="Liberation Sans" font-size="24.5" fill="#222" textLength="32.76" lengthAdjust="spacingAndGlyphs" stroke="#222" stroke-width="0.45" >0.5</text>
<text x="35.60" y="85.00" font-family="Liberation Sans" font-size="24.5" fill="#222" textLength="32.76" lengthAdjust="spacingAndGlyphs" stroke="#222" stroke-width="0.45" >0.6</text>
<text x="75.30" y="484.60" font-family="Liberation Sans" font-size="24.5" fill="#222" textLength="39.28" lengthAdjust="spacingAndGlyphs" stroke="#222" stroke-width="0.45" >250</text>
<text x="257.40" y="484.60" font-family="Liberation Sans" font-size="24.5" fill="#222" textLength="39.28" lengthAdjust="spacingAndGlyphs" stroke="#222" stroke-width="0.45" >350</text>
<text x="439.50" y="484.60" font-family="Liberation Sans" font-size="24.5" fill="#222" textLength="39.28" lengthAdjust="spacingAndGlyphs" stroke="#222" stroke-width="0.45" >450</text>
<text x="621.60" y="484.60" font-family="Liberation Sans" font-size="24.5" fill="#222" textLength="39.28" lengthAdjust="spacingAndGlyphs" stroke="#222" stroke-width="0.45" >550</text>
<g transform="translate(28.4,224.1) rotate(-90)"><text x="-64.20" y="0.00" font-family="Liberation Sans" font-size="25" fill="#222" textLength="128.32" lengthAdjust="spacingAndGlyphs" stroke="#222" stroke-width="0.45" >Absorbance</text></g>
<text x="379.48" y="511.70" font-family="Liberation Serif" font-size="28" font-style="italic" fill="#222" textLength="14.27" lengthAdjust="spacingAndGlyphs" stroke="#222" stroke-width="0.45" >λ</text>
<text x="400.60" y="511.70" font-family="Liberation Sans" font-size="23.5" fill="#222" textLength="49.24" lengthAdjust="spacingAndGlyphs" stroke="#222" stroke-width="0.45" >(nm)</text>
<text x="152.20" y="36.80" font-family="Liberation Sans" font-size="23" fill="#e28e4c" textLength="286.72" lengthAdjust="spacingAndGlyphs" stroke="#e28e4c" stroke-width="0.2" >[Ce(IV)3,4,3-LI(1,2-HOPO)]</text>
<text x="390.10" y="283.90" font-family="Liberation Sans" font-size="23" fill="#222" textLength="122.23" lengthAdjust="spacingAndGlyphs" stroke="#222" stroke-width="0.45" >0 eq. Th(IV)</text>
<text x="380.90" y="379.40" font-family="Liberation Sans" font-size="23" fill="#222" textLength="137.18" lengthAdjust="spacingAndGlyphs" stroke="#222" stroke-width="0.45" >50 eq. Th(IV)</text>
<text x="98.90" y="382.90" font-family="Liberation Sans" font-size="23" fill="#8dc860" textLength="151.14" lengthAdjust="spacingAndGlyphs" stroke="#8dc860" stroke-width="0.15" >[Th(IV)3,4,3-LI</text>
<text x="98.90" y="415.20" font-family="Liberation Sans" font-size="23" fill="#8dc860" textLength="127.28" lengthAdjust="spacingAndGlyphs" stroke="#8dc860" stroke-width="0.15" >(1,2-HOPO)]</text>
<line x1="448.9" y1="303.5" x2="448.9" y2="349" stroke="#444" stroke-width="2" stroke-linecap="round"/>
<path d="M446.2,347.5 L451.6,347.5 L448.9,354 Z" fill="#222" stroke="#222" stroke-width="0.8" stroke-linejoin="round"/>
<rect x="472.8" y="22.1" width="277.9" height="189.8" fill="#fff" stroke="#d9d9d9" stroke-width="2"/>
<path d="M536.0,75.00 L536.5,75.84 L537.0,76.65 L537.5,77.45 L538.0,78.22 L538.5,78.96 L539.0,79.68 L539.5,80.38 L540.0,81.05 L540.5,81.68 L541.0,82.29 L541.5,82.87 L542.0,83.42 L542.5,83.94 L543.0,84.44 L543.5,84.93 L544.0,85.40 L544.5,85.84 L545.0,86.27 L545.5,86.68 L546.0,87.07 L546.5,87.44 L547.0,87.80 L547.5,88.14 L548.0,88.47 L548.5,88.78 L549.0,89.09 L549.5,89.38 L550.0,89.66 L550.5,89.94 L551.0,90.21 L551.5,90.47 L552.0,90.72 L552.5,90.97 L553.0,91.21 L553.5,91.45 L554.0,91.69 L554.5,91.92 L555.0,92.16 L555.5,92.39 L556.0,92.61 L556.5,92.84 L557.0,93.06 L557.5,93.28 L558.0,93.50 L558.5,93.71 L559.0,93.92 L559.5,94.13 L560.0,94.33 L560.5,94.53 L561.0,94.72 L561.5,94.91 L562.0,95.10 L562.5,95.27 L563.0,95.45 L563.5,95.62 L564.0,95.78 L564.5,95.93 L565.0,96.08 L565.5,96.23 L566.0,96.37 L566.5,96.51 L567.0,96.64 L567.5,96.77 L568.0,96.90 L568.5,97.03 L569.0,97.15 L569.5,97.27 L570.0,97.39 L570.5,97.50 L571.0,97.61 L571.5,97.72 L572.0,97.83 L572.5,97.94 L573.0,98.04 L573.5,98.14 L574.0,98.24 L574.5,98.33 L575.0,98.42 L575.5,98.51 L576.0,98.60 L576.5,98.68 L577.0,98.77 L577.5,98.85 L578.0,98.93 L578.5,99.00 L579.0,99.08 L579.5,99.15 L580.0,99.22 L580.5,99.30 L581.0,99.36 L581.5,99.43 L582.0,99.50 L582.5,99.56 L583.0,99.63 L583.5,99.69 L584.0,99.75 L584.5,99.81 L585.0,99.87 L585.5,99.92 L586.0,99.98 L586.5,100.04 L587.0,100.09 L587.5,100.14 L588.0,100.20 L588.5,100.25 L589.0,100.30 L589.5,100.35 L590.0,100.40 L590.5,100.45 L591.0,100.50 L591.5,100.54 L592.0,100.59 L592.5,100.63 L593.0,100.68 L593.5,100.72 L594.0,100.77 L594.5,100.81 L595.0,100.85 L595.5,100.89 L596.0,100.93 L596.5,100.97 L597.0,101.01 L597.5,101.05 L598.0,101.09 L598.5,101.13 L599.0,101.16 L599.5,101.20 L600.0,101.24 L600.5,101.27 L601.0,101.31 L601.5,101.34 L602.0,101.37 L602.5,101.41 L603.0,101.44 L603.5,101.47 L604.0,101.50 L604.5,101.53 L605.0,101.56 L605.5,101.59 L606.0,101.62 L606.5,101.64 L607.0,101.67 L607.5,101.70 L608.0,101.73 L608.5,101.76 L609.0,101.78 L609.5,101.81 L610.0,101.84 L610.5,101.87 L611.0,101.90 L611.5,101.93 L612.0,101.96 L612.5,101.99 L613.0,102.02 L613.5,102.05 L614.0,102.08 L614.5,102.12 L615.0,102.15 L615.5,102.18 L616.0,102.22 L616.5,102.25 L617.0,102.29 L617.5,102.32 L618.0,102.36 L618.5,102.40 L619.0,102.43 L619.5,102.47 L620.0,102.51 L620.5,102.54 L621.0,102.58 L621.5,102.62 L622.0,102.66 L622.5,102.69 L623.0,102.73 L623.5,102.77 L624.0,102.81 L624.5,102.84 L625.0,102.88 L625.5,102.92 L626.0,102.95 L626.5,102.99 L627.0,103.02 L627.5,103.06 L628.0,103.09 L628.5,103.13 L629.0,103.16 L629.5,103.19 L630.0,103.23 L630.5,103.26 L631.0,103.29 L631.5,103.32 L632.0,103.35 L632.5,103.38 L633.0,103.41 L633.5,103.44 L634.0,103.46 L634.5,103.49 L635.0,103.51 L635.5,103.54 L636.0,103.56 L636.5,103.58 L637.0,103.60 L637.5,103.62 L638.0,103.64 L638.5,103.66 L639.0,103.68 L639.5,103.69 L640.0,103.71 L640.5,103.73 L641.0,103.75 L641.5,103.76 L642.0,103.78 L642.5,103.80 L643.0,103.81 L643.5,103.83 L644.0,103.85 L644.5,103.86 L645.0,103.88 L645.5,103.89 L646.0,103.91 L646.5,103.92 L647.0,103.94 L647.5,103.95 L648.0,103.97 L648.5,103.98 L649.0,103.99 L649.5,104.01 L650.0,104.02 L650.5,104.03 L651.0,104.05 L651.5,104.06 L652.0,104.07 L652.5,104.09 L653.0,104.10 L653.5,104.11 L654.0,104.12 L654.5,104.14 L655.0,104.15 L655.5,104.16 L656.0,104.17 L656.5,104.18 L657.0,104.20 L657.5,104.21 L658.0,104.22 L658.5,104.23 L659.0,104.24 L659.5,104.25 L660.0,104.27 L660.5,104.28 L661.0,104.29 L661.5,104.30 L662.0,104.31 L662.5,104.32 L663.0,104.34 L663.5,104.35 L664.0,104.36 L664.5,104.37 L665.0,104.38 L665.5,104.39 L666.0,104.40 L666.5,104.42 L667.0,104.43 L667.5,104.44 L668.0,104.45 L668.5,104.46 L669.0,104.48 L669.5,104.49 L670.0,104.50 L670.5,104.51 L671.0,104.52 L671.5,104.54 L672.0,104.55 L672.5,104.56 L673.0,104.57 L673.5,104.59 L674.0,104.60 L674.5,104.61 L675.0,104.62 L675.5,104.63 L676.0,104.65 L676.5,104.66 L677.0,104.67 L677.5,104.68 L678.0,104.69 L678.5,104.70 L679.0,104.72 L679.5,104.73 L680.0,104.74 L680.5,104.75 L681.0,104.76 L681.5,104.77 L682.0,104.79 L682.5,104.80 L683.0,104.81 L683.5,104.82 L684.0,104.83 L684.5,104.84 L685.0,104.85 L685.5,104.87 L686.0,104.88 L686.5,104.89 L687.0,104.90 L687.5,104.91 L688.0,104.92 L688.5,104.93 L689.0,104.94 L689.5,104.96 L690.0,104.97 L690.5,104.98 L691.0,104.99 L691.5,105.00 L692.0,105.01 L692.5,105.02 L693.0,105.03 L693.5,105.04 L694.0,105.05 L694.5,105.06 L695.0,105.07 L695.5,105.09 L696.0,105.10 L696.5,105.11 L697.0,105.12 L697.5,105.13 L698.0,105.14 L698.5,105.15 L699.0,105.16 L699.5,105.17 L700.0,105.18 L700.5,105.19 L701.0,105.20 L701.5,105.21 L702.0,105.22 L702.5,105.23 L703.0,105.24 L703.5,105.25 L704.0,105.26 L704.5,105.27 L705.0,105.28 L705.5,105.29 L706.0,105.30" fill="none" stroke="#707070" stroke-width="1.5"/>
<path d="M536.0,139.50 L536.5,139.93 L537.0,140.34 L537.5,140.74 L538.0,141.13 L538.5,141.50 L539.0,141.85 L539.5,142.19 L540.0,142.50 L540.5,142.80 L541.0,143.08 L541.5,143.35 L542.0,143.61 L542.5,143.87 L543.0,144.11 L543.5,144.34 L544.0,144.57 L544.5,144.79 L545.0,145.00 L545.5,145.21 L546.0,145.41 L546.5,145.61 L547.0,145.80 L547.5,145.99 L548.0,146.17 L548.5,146.34 L549.0,146.50 L549.5,146.65 L550.0,146.80 L550.5,146.94 L551.0,147.08 L551.5,147.21 L552.0,147.34 L552.5,147.47 L553.0,147.60 L553.5,147.72 L554.0,147.84 L554.5,147.96 L555.0,148.07 L555.5,148.19 L556.0,148.29 L556.5,148.40 L557.0,148.49 L557.5,148.59 L558.0,148.68 L558.5,148.77 L559.0,148.85 L559.5,148.93 L560.0,149.00 L560.5,149.07 L561.0,149.14 L561.5,149.20 L562.0,149.27 L562.5,149.33 L563.0,149.40 L563.5,149.46 L564.0,149.52 L564.5,149.57 L565.0,149.63 L565.5,149.69 L566.0,149.74 L566.5,149.79 L567.0,149.85 L567.5,149.90 L568.0,149.94 L568.5,149.99 L569.0,150.04 L569.5,150.08 L570.0,150.13 L570.5,150.17 L571.0,150.21 L571.5,150.25 L572.0,150.29 L572.5,150.33 L573.0,150.36 L573.5,150.40 L574.0,150.43 L574.5,150.47 L575.0,150.50 L575.5,150.53 L576.0,150.56 L576.5,150.59 L577.0,150.62 L577.5,150.65 L578.0,150.68 L578.5,150.70 L579.0,150.73 L579.5,150.76 L580.0,150.78 L580.5,150.81 L581.0,150.83 L581.5,150.85 L582.0,150.88 L582.5,150.90 L583.0,150.92 L583.5,150.94 L584.0,150.97 L584.5,150.99 L585.0,151.01 L585.5,151.03 L586.0,151.05 L586.5,151.07 L587.0,151.09 L587.5,151.11 L588.0,151.13 L588.5,151.14 L589.0,151.16 L589.5,151.18 L590.0,151.20 L590.5,151.22 L591.0,151.24 L591.5,151.25 L592.0,151.27 L592.5,151.29 L593.0,151.31 L593.5,151.32 L594.0,151.34 L594.5,151.36 L595.0,151.37 L595.5,151.39 L596.0,151.40 L596.5,151.42 L597.0,151.44 L597.5,151.45 L598.0,151.47 L598.5,151.48 L599.0,151.50 L599.5,151.51 L600.0,151.53 L600.5,151.54 L601.0,151.55 L601.5,151.57 L602.0,151.58 L602.5,151.60 L603.0,151.61 L603.5,151.63 L604.0,151.64 L604.5,151.65 L605.0,151.67 L605.5,151.68 L606.0,151.69 L606.5,151.71 L607.0,151.72 L607.5,151.73 L608.0,151.75 L608.5,151.76 L609.0,151.77 L609.5,151.79 L610.0,151.80 L610.5,151.81 L611.0,151.83 L611.5,151.84 L612.0,151.85 L612.5,151.87 L613.0,151.88 L613.5,151.89 L614.0,151.91 L614.5,151.92 L615.0,151.93 L615.5,151.95 L616.0,151.96 L616.5,151.97 L617.0,151.98 L617.5,152.00 L618.0,152.01 L618.5,152.02 L619.0,152.04 L619.5,152.05 L620.0,152.06 L620.5,152.07 L621.0,152.09 L621.5,152.10 L622.0,152.11 L622.5,152.13 L623.0,152.14 L623.5,152.15 L624.0,152.16 L624.5,152.17 L625.0,152.19 L625.5,152.20 L626.0,152.21 L626.5,152.22 L627.0,152.23 L627.5,152.25 L628.0,152.26 L628.5,152.27 L629.0,152.28 L629.5,152.29 L630.0,152.30 L630.5,152.31 L631.0,152.33 L631.5,152.34 L632.0,152.35 L632.5,152.36 L633.0,152.37 L633.5,152.38 L634.0,152.39 L634.5,152.40 L635.0,152.41 L635.5,152.42 L636.0,152.43 L636.5,152.44 L637.0,152.45 L637.5,152.46 L638.0,152.47 L638.5,152.47 L639.0,152.48 L639.5,152.49 L640.0,152.50 L640.5,152.51 L641.0,152.52 L641.5,152.52 L642.0,152.53 L642.5,152.54 L643.0,152.55 L643.5,152.56 L644.0,152.57 L644.5,152.57 L645.0,152.58 L645.5,152.59 L646.0,152.60 L646.5,152.61 L647.0,152.62 L647.5,152.62 L648.0,152.63 L648.5,152.64 L649.0,152.65 L649.5,152.66 L650.0,152.66 L650.5,152.67 L651.0,152.68 L651.5,152.69 L652.0,152.70 L652.5,152.70 L653.0,152.71 L653.5,152.72 L654.0,152.73 L654.5,152.73 L655.0,152.74 L655.5,152.75 L656.0,152.76 L656.5,152.77 L657.0,152.77 L657.5,152.78 L658.0,152.79 L658.5,152.80 L659.0,152.80 L659.5,152.81 L660.0,152.82 L660.5,152.83 L661.0,152.83 L661.5,152.84 L662.0,152.85 L662.5,152.86 L663.0,152.86 L663.5,152.87 L664.0,152.88 L664.5,152.88 L665.0,152.89 L665.5,152.90 L666.0,152.91 L666.5,152.91 L667.0,152.92 L667.5,152.93 L668.0,152.93 L668.5,152.94 L669.0,152.95 L669.5,152.95 L670.0,152.96 L670.5,152.97 L671.0,152.97 L671.5,152.98 L672.0,152.99 L672.5,152.99 L673.0,153.00 L673.5,153.01 L674.0,153.01 L674.5,153.02 L675.0,153.03 L675.5,153.03 L676.0,153.04 L676.5,153.04 L677.0,153.05 L677.5,153.06 L678.0,153.06 L678.5,153.07 L679.0,153.07 L679.5,153.08 L680.0,153.09 L680.5,153.09 L681.0,153.10 L681.5,153.10 L682.0,153.11 L682.5,153.11 L683.0,153.12 L683.5,153.13 L684.0,153.13 L684.5,153.14 L685.0,153.14 L685.5,153.15 L686.0,153.15 L686.5,153.16 L687.0,153.16 L687.5,153.17 L688.0,153.17 L688.5,153.18 L689.0,153.18 L689.5,153.19 L690.0,153.19 L690.5,153.19 L691.0,153.20 L691.5,153.20 L692.0,153.21 L692.5,153.21 L693.0,153.22 L693.5,153.22 L694.0,153.22 L694.5,153.23 L695.0,153.23 L695.5,153.24 L696.0,153.24 L696.5,153.24 L697.0,153.25 L697.5,153.25 L698.0,153.25 L698.5,153.26 L699.0,153.26 L699.5,153.26 L700.0,153.27 L700.5,153.27 L701.0,153.27 L701.5,153.28 L702.0,153.28 L702.5,153.28 L703.0,153.29 L703.5,153.29 L704.0,153.29 L704.5,153.29 L705.0,153.30 L705.5,153.30 L706.0,153.30" fill="none" stroke="#707070" stroke-width="1.5"/>
<line x1="536" y1="30.5" x2="536" y2="161" stroke="#555555" stroke-width="1.6"/>
<line x1="531.5" y1="160.5" x2="740" y2="160.5" stroke="#555555" stroke-width="1.6"/>
<line x1="531.5" y1="160.50" x2="536" y2="160.50" stroke="#555555" stroke-width="1.4"/>
<text x="491.10" y="168.10" font-family="Liberation Sans" font-size="15" fill="#4a4a4a" textLength="28.85" lengthAdjust="spacingAndGlyphs" stroke="#4a4a4a" stroke-width="0.45" >0.00</text>
<line x1="531.5" y1="128.05" x2="536" y2="128.05" stroke="#555555" stroke-width="1.4"/>
<text x="491.10" y="135.65" font-family="Liberation Sans" font-size="15" fill="#4a4a4a" textLength="28.85" lengthAdjust="spacingAndGlyphs" stroke="#4a4a4a" stroke-width="0.45" >0.10</text>
<line x1="531.5" y1="95.60" x2="536" y2="95.60" stroke="#555555" stroke-width="1.4"/>
<text x="491.10" y="103.20" font-family="Liberation Sans" font-size="15" fill="#4a4a4a" textLength="28.85" lengthAdjust="spacingAndGlyphs" stroke="#4a4a4a" stroke-width="0.45" >0.20</text>
<line x1="531.5" y1="63.15" x2="536" y2="63.15" stroke="#555555" stroke-width="1.4"/>
<text x="491.10" y="70.75" font-family="Liberation Sans" font-size="15" fill="#4a4a4a" textLength="28.85" lengthAdjust="spacingAndGlyphs" stroke="#4a4a4a" stroke-width="0.45" >0.30</text>
<line x1="531.5" y1="30.70" x2="536" y2="30.70" stroke="#555555" stroke-width="1.4"/>
<text x="491.10" y="38.30" font-family="Liberation Sans" font-size="15" fill="#4a4a4a" textLength="28.85" lengthAdjust="spacingAndGlyphs" stroke="#4a4a4a" stroke-width="0.45" >0.40</text>
<line x1="536.50" y1="160.5" x2="536.50" y2="165.2" stroke="#555555" stroke-width="1.4"/>
<text x="532.20" y="193.50" font-family="Liberation Sans" font-size="14.5" fill="#4a4a4a" textLength="8.67" lengthAdjust="spacingAndGlyphs" stroke="#4a4a4a" stroke-width="0.45" >0</text>
<line x1="604.20" y1="160.5" x2="604.20" y2="165.2" stroke="#555555" stroke-width="1.4"/>
<text x="596.45" y="193.50" font-family="Liberation Sans" font-size="14.5" fill="#4a4a4a" textLength="15.38" lengthAdjust="spacingAndGlyphs" stroke="#4a4a4a" stroke-width="0.45" >20</text>
<line x1="671.90" y1="160.5" x2="671.90" y2="165.2" stroke="#555555" stroke-width="1.4"/>
<text x="664.15" y="193.50" font-family="Liberation Sans" font-size="14.5" fill="#4a4a4a" textLength="15.38" lengthAdjust="spacingAndGlyphs" stroke="#4a4a4a" stroke-width="0.45" >40</text>
<line x1="739.60" y1="160.5" x2="739.60" y2="165.2" stroke="#555555" stroke-width="1.4"/>
<text x="733.05" y="193.50" font-family="Liberation Sans" font-size="14.5" fill="#4a4a4a" textLength="15.38" lengthAdjust="spacingAndGlyphs" stroke="#4a4a4a" stroke-width="0.45" >60</text>
<text x="605.80" y="208.60" font-family="Liberation Sans" font-size="14.5" fill="#4a4a4a" textLength="64.55" lengthAdjust="spacingAndGlyphs" stroke="#4a4a4a" stroke-width="0.45" >Eq. Th(IV)</text>
<g transform="translate(489.2,96.9) rotate(-90)"><text x="-39.30" y="0.00" font-family="Liberation Sans" font-size="14.5" fill="#4a4a4a" textLength="78.47" lengthAdjust="spacingAndGlyphs" stroke="#4a4a4a" stroke-width="0.45" >Absorbance</text></g>
<path d="M536.5,65.6 L538.5,67.6 L536.5,69.6 L534.5,67.6 Z" fill="#2a4f7c"/>
<path d="M539.9,74.0 L541.9,76.0 L539.9,78.0 L537.9,76.0 Z" fill="#2a4f7c"/>
<path d="M543.3,82.6 L545.3,84.6 L543.3,86.6 L541.3,84.6 Z" fill="#2a4f7c"/>
<path d="M550.0,85.7 L552.0,87.7 L550.0,89.7 L548.0,87.7 Z" fill="#2a4f7c"/>
<path d="M556.8,89.0 L558.8,91.0 L556.8,93.0 L554.8,91.0 Z" fill="#2a4f7c"/>
<path d="M563.6,93.0 L565.6,95.0 L563.6,97.0 L561.6,95.0 Z" fill="#2a4f7c"/>
<path d="M570.3,92.5 L572.3,94.5 L570.3,96.5 L568.3,94.5 Z" fill="#2a4f7c"/>
<path d="M577.1,94.6 L579.1,96.6 L577.1,98.6 L575.1,96.6 Z" fill="#2a4f7c"/>
<path d="M587.2,94.6 L589.2,96.6 L587.2,98.6 L585.2,96.6 Z" fill="#2a4f7c"/>
<path d="M638.0,103.7 L640.0,105.7 L638.0,107.7 L636.0,105.7 Z" fill="#2a4f7c"/>
<path d="M705.6,111.9 L707.6,113.9 L705.6,115.9 L703.6,113.9 Z" fill="#2a4f7c"/>
<path d="M536.5,138.1 L538.8,142.0 L534.2,142.0 Z" fill="#701018"/>
<path d="M538.2,139.4 L540.5,143.3 L535.9,143.3 Z" fill="#701018"/>
<path d="M539.9,140.8 L542.2,144.7 L537.6,144.7 Z" fill="#701018"/>
<path d="M543.3,142.4 L545.6,146.3 L541.0,146.3 Z" fill="#701018"/>
<path d="M550.0,144.4 L552.3,148.3 L547.7,148.3 Z" fill="#701018"/>
<path d="M556.8,146.3 L559.1,150.2 L554.5,150.2 Z" fill="#701018"/>
<path d="M563.6,148.5 L565.9,152.4 L561.3,152.4 Z" fill="#701018"/>
<path d="M570.3,148.5 L572.6,152.4 L568.0,152.4 Z" fill="#701018"/>
<path d="M577.1,149.1 L579.4,153.0 L574.8,153.0 Z" fill="#701018"/>
<path d="M587.2,149.1 L589.5,153.0 L584.9,153.0 Z" fill="#701018"/>
<path d="M638.0,152.1 L640.3,156.0 L635.7,156.0 Z" fill="#701018"/>
<path d="M705.6,155.7 L707.9,159.6 L703.4,159.6 Z" fill="#701018"/>
</svg></body></html>
